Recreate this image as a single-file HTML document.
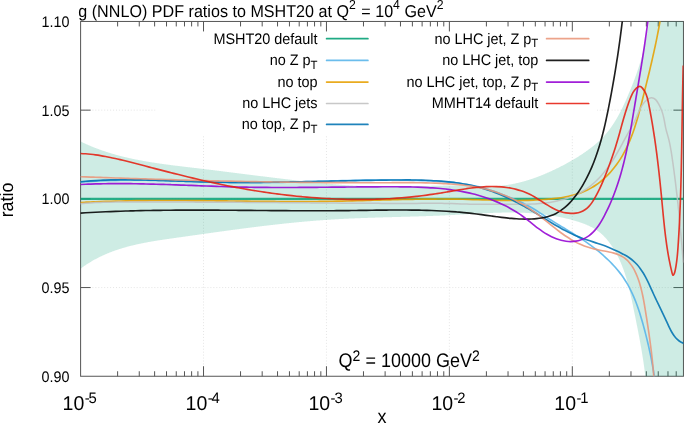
<!DOCTYPE html>
<html lang="en"><head><meta charset="utf-8"><title>g (NNLO) PDF ratios to MSHT20</title>
<style>html,body{margin:0;padding:0;background:#fff;overflow:hidden}svg{display:block}</style></head>
<body>
<svg width="685" height="423" viewBox="0 0 685 423" font-family="'Liberation Sans', Arial, Helvetica, sans-serif" fill="#000">
<defs><clipPath id="pc"><rect x="80.60" y="21.45" width="602.85" height="354.80"/></clipPath></defs>
<rect x="0" y="0" width="685" height="423" fill="#fff"/>
<g stroke="#e2e2e2" stroke-width="0.9" stroke-dasharray="1,1.95" fill="none">
<line x1="203.53" y1="376.25" x2="203.53" y2="21.45"/>
<line x1="326.46" y1="376.25" x2="326.46" y2="21.45"/>
<line x1="449.39" y1="376.25" x2="449.39" y2="21.45"/>
<line x1="572.32" y1="376.25" x2="572.32" y2="21.45"/>
<line x1="80.60" y1="287.55" x2="683.45" y2="287.55"/>
<line x1="80.60" y1="198.85" x2="683.45" y2="198.85"/>
<line x1="80.60" y1="110.15" x2="683.45" y2="110.15"/>
</g>
<rect x="155.60" y="21.50" width="441.40" height="114.00" fill="#fff"/>
<g stroke="#555" stroke-width="1.0" fill="none">
<rect x="80.60" y="21.45" width="602.85" height="354.80"/>
<path d="M117.61,376.25v-5.00M117.61,21.45v5.00"/>
<path d="M139.25,376.25v-5.00M139.25,21.45v5.00"/>
<path d="M154.61,376.25v-5.00M154.61,21.45v5.00"/>
<path d="M166.52,376.25v-5.00M166.52,21.45v5.00"/>
<path d="M176.26,376.25v-5.00M176.26,21.45v5.00"/>
<path d="M184.49,376.25v-5.00M184.49,21.45v5.00"/>
<path d="M191.62,376.25v-5.00M191.62,21.45v5.00"/>
<path d="M197.91,376.25v-5.00M197.91,21.45v5.00"/>
<path d="M203.53,376.25v-10.00M203.53,21.45v10.00"/>
<path d="M240.54,376.25v-5.00M240.54,21.45v5.00"/>
<path d="M262.18,376.25v-5.00M262.18,21.45v5.00"/>
<path d="M277.54,376.25v-5.00M277.54,21.45v5.00"/>
<path d="M289.45,376.25v-5.00M289.45,21.45v5.00"/>
<path d="M299.19,376.25v-5.00M299.19,21.45v5.00"/>
<path d="M307.42,376.25v-5.00M307.42,21.45v5.00"/>
<path d="M314.55,376.25v-5.00M314.55,21.45v5.00"/>
<path d="M320.84,376.25v-5.00M320.84,21.45v5.00"/>
<path d="M326.46,376.25v-10.00M326.46,21.45v10.00"/>
<path d="M363.47,376.25v-5.00M363.47,21.45v5.00"/>
<path d="M385.11,376.25v-5.00M385.11,21.45v5.00"/>
<path d="M400.47,376.25v-5.00M400.47,21.45v5.00"/>
<path d="M412.38,376.25v-5.00M412.38,21.45v5.00"/>
<path d="M422.12,376.25v-5.00M422.12,21.45v5.00"/>
<path d="M430.35,376.25v-5.00M430.35,21.45v5.00"/>
<path d="M437.48,376.25v-5.00M437.48,21.45v5.00"/>
<path d="M443.77,376.25v-5.00M443.77,21.45v5.00"/>
<path d="M449.39,376.25v-10.00M449.39,21.45v10.00"/>
<path d="M486.40,376.25v-5.00M486.40,21.45v5.00"/>
<path d="M508.04,376.25v-5.00M508.04,21.45v5.00"/>
<path d="M523.40,376.25v-5.00M523.40,21.45v5.00"/>
<path d="M535.31,376.25v-5.00M535.31,21.45v5.00"/>
<path d="M545.05,376.25v-5.00M545.05,21.45v5.00"/>
<path d="M553.28,376.25v-5.00M553.28,21.45v5.00"/>
<path d="M560.41,376.25v-5.00M560.41,21.45v5.00"/>
<path d="M566.70,376.25v-5.00M566.70,21.45v5.00"/>
<path d="M572.32,376.25v-10.00M572.32,21.45v10.00"/>
<path d="M609.33,376.25v-5.00M609.33,21.45v5.00"/>
<path d="M630.97,376.25v-5.00M630.97,21.45v5.00"/>
<path d="M646.33,376.25v-5.00M646.33,21.45v5.00"/>
<path d="M658.24,376.25v-5.00M658.24,21.45v5.00"/>
<path d="M667.98,376.25v-5.00M667.98,21.45v5.00"/>
<path d="M676.21,376.25v-5.00M676.21,21.45v5.00"/>
<path d="M80.60,287.55h10.00M683.45,287.55h-10.00"/>
<path d="M80.60,198.85h10.00M683.45,198.85h-10.00"/>
<path d="M80.60,110.15h10.00M683.45,110.15h-10.00"/>
</g>
<g clip-path="url(#pc)">
<path d="M80.46,141.37L80.92,141.59L81.37,141.82L81.83,142.04L82.28,142.26L82.74,142.48L83.20,142.70L83.65,142.91L84.11,143.13L84.57,143.34L85.03,143.55L85.49,143.76L85.95,143.97L86.41,144.18L86.87,144.39L87.33,144.59L87.79,144.80L88.25,145.00L88.71,145.20L89.17,145.40L89.63,145.60L90.10,145.80L90.56,145.99L91.02,146.19L91.49,146.38L91.95,146.57L92.41,146.76L92.88,146.95L93.34,147.14L93.81,147.32L94.27,147.51L94.74,147.69L95.21,147.88L95.67,148.06L96.14,148.24L96.61,148.42L97.07,148.60L97.54,148.77L98.01,148.95L98.48,149.12L98.95,149.29L99.42,149.47L99.89,149.64L100.36,149.81L100.83,149.97L101.30,150.14L101.77,150.31L102.24,150.47L102.71,150.64L103.18,150.80L103.65,150.96L104.13,151.12L104.60,151.28L105.07,151.44L105.54,151.59L106.02,151.75L106.49,151.90L106.97,152.06L107.44,152.21L107.91,152.36L108.39,152.51L108.86,152.66L109.34,152.81L109.82,152.95L110.29,153.10L110.77,153.24L111.25,153.39L111.72,153.53L112.20,153.67L112.68,153.81L113.15,153.95L113.63,154.09L114.11,154.23L114.59,154.37L115.07,154.50L115.55,154.64L116.03,154.77L116.51,154.90L116.99,155.03L117.47,155.16L117.95,155.29L118.43,155.42L118.91,155.55L119.39,155.68L119.87,155.80L120.35,155.93L120.83,156.05L121.31,156.18L121.80,156.30L122.28,156.42L122.76,156.54L123.24,156.66L123.73,156.78L124.21,156.90L124.69,157.01L125.18,157.13L125.66,157.25L126.15,157.36L126.63,157.47L127.12,157.59L127.60,157.70L128.09,157.81L128.57,157.92L129.06,158.03L129.54,158.14L130.03,158.25L130.52,158.35L131.00,158.46L131.49,158.57L131.98,158.67L132.46,158.78L132.95,158.88L133.44,158.98L133.92,159.08L134.41,159.18L134.90,159.28L135.39,159.38L135.88,159.48L136.36,159.58L136.85,159.68L137.34,159.78L137.83,159.87L138.32,159.97L138.81,160.06L139.30,160.16L139.79,160.25L140.28,160.34L140.77,160.43L141.26,160.53L141.75,160.62L142.24,160.71L142.73,160.80L143.22,160.88L143.71,160.97L144.20,161.06L144.70,161.15L145.19,161.23L145.68,161.32L146.17,161.40L146.66,161.49L147.16,161.57L147.65,161.66L148.14,161.74L148.63,161.82L149.12,161.90L149.62,161.99L150.11,162.07L150.60,162.15L151.10,162.23L151.59,162.31L152.08,162.38L152.58,162.46L153.07,162.54L153.56,162.62L154.06,162.69L154.55,162.77L155.05,162.85L155.54,162.92L156.04,163.00L156.53,163.07L157.03,163.15L157.52,163.22L158.01,163.29L158.51,163.36L159.00,163.44L159.50,163.51L160.00,163.58L160.49,163.65L160.99,163.72L161.48,163.79L161.98,163.86L162.47,163.93L162.97,164.00L163.46,164.07L163.96,164.14L164.46,164.21L164.95,164.27L165.45,164.34L165.95,164.41L166.44,164.47L166.94,164.54L167.43,164.61L167.93,164.67L168.43,164.74L168.92,164.80L169.42,164.87L169.92,164.93L170.41,165.00L170.91,165.06L171.41,165.13L171.91,165.19L172.40,165.25L172.90,165.32L173.40,165.38L173.90,165.44L174.39,165.50L174.89,165.57L175.39,165.63L175.88,165.69L176.38,165.75L176.88,165.81L177.38,165.87L177.87,165.93L178.37,166.00L178.87,166.06L179.37,166.12L179.87,166.18L180.36,166.24L180.86,166.30L181.36,166.36L181.86,166.42L182.35,166.48L182.85,166.54L183.35,166.60L183.85,166.65L184.35,166.71L184.84,166.77L185.34,166.83L185.84,166.89L186.34,166.95L186.84,167.01L187.33,167.07L187.83,167.13L188.33,167.19L188.83,167.24L189.33,167.30L189.82,167.36L190.32,167.42L190.82,167.48L191.32,167.54L191.82,167.60L192.31,167.65L192.81,167.71L193.31,167.77L193.81,167.83L194.30,167.89L194.80,167.95L195.30,168.01L195.80,168.07L196.30,168.12L196.79,168.18L197.29,168.24L197.79,168.30L198.29,168.36L198.78,168.42L199.28,168.48L199.78,168.54L200.28,168.60L200.77,168.66L201.27,168.72L201.77,168.78L202.27,168.84L202.76,168.90L203.26,168.96L203.76,169.02L204.25,169.08L204.75,169.14L205.25,169.20L205.75,169.26L206.24,169.32L206.74,169.38L207.24,169.44L207.73,169.50L208.23,169.56L208.73,169.62L209.22,169.68L209.72,169.74L210.22,169.80L210.71,169.86L211.21,169.92L211.71,169.99L212.20,170.05L212.70,170.11L213.20,170.17L213.69,170.23L214.19,170.29L214.69,170.35L215.18,170.41L215.68,170.47L216.18,170.54L216.67,170.60L217.17,170.66L217.66,170.72L218.16,170.78L218.66,170.84L219.15,170.91L219.65,170.97L220.15,171.03L220.64,171.09L221.14,171.15L221.63,171.21L222.13,171.28L222.63,171.34L223.12,171.40L223.62,171.46L224.12,171.52L224.61,171.59L225.11,171.65L225.60,171.71L226.10,171.77L226.60,171.83L227.09,171.90L227.59,171.96L228.08,172.02L228.58,172.08L229.07,172.15L229.57,172.21L230.07,172.27L230.56,172.33L231.06,172.39L231.55,172.46L232.05,172.52L232.55,172.58L233.04,172.64L233.54,172.71L234.03,172.77L234.53,172.83L235.02,172.89L235.52,172.96L236.01,173.02L236.51,173.08L237.01,173.14L237.50,173.21L238.00,173.27L238.49,173.33L238.99,173.39L239.48,173.45L239.98,173.52L240.47,173.58L240.97,173.64L241.47,173.70L241.96,173.77L242.46,173.83L242.95,173.89L243.45,173.95L243.94,174.02L244.44,174.08L244.93,174.14L245.43,174.20L245.92,174.27L246.42,174.33L246.92,174.39L247.41,174.45L247.91,174.52L248.40,174.58L248.90,174.64L249.39,174.70L249.89,174.76L250.38,174.83L250.88,174.89L251.37,174.95L251.87,175.01L252.36,175.07L252.86,175.14L253.36,175.20L253.85,175.26L254.35,175.32L254.84,175.39L255.34,175.45L255.83,175.51L256.33,175.57L256.82,175.63L257.32,175.69L257.81,175.76L258.31,175.82L258.80,175.88L259.30,175.94L259.79,176.00L260.29,176.06L260.78,176.13L261.28,176.19L261.78,176.25L262.27,176.31L262.77,176.37L263.26,176.43L263.76,176.49L264.25,176.56L264.75,176.62L265.24,176.68L265.74,176.74L266.23,176.80L266.73,176.86L267.22,176.92L267.72,176.98L268.21,177.04L268.71,177.10L269.21,177.16L269.70,177.22L270.20,177.29L270.69,177.35L271.19,177.41L271.68,177.47L272.18,177.53L272.67,177.59L273.17,177.65L273.66,177.71L274.16,177.77L274.65,177.83L275.15,177.89L275.65,177.95L276.14,178.01L276.64,178.07L277.13,178.13L277.63,178.19L278.12,178.25L278.62,178.30L279.11,178.36L279.61,178.42L280.11,178.48L280.60,178.54L281.10,178.60L281.59,178.66L282.09,178.72L282.58,178.78L283.08,178.84L283.57,178.89L284.07,178.95L284.57,179.01L285.06,179.07L285.56,179.13L286.05,179.19L286.55,179.24L287.05,179.30L287.54,179.36L288.04,179.42L288.53,179.48L289.03,179.53L289.52,179.59L290.02,179.65L290.52,179.70L291.01,179.76L291.51,179.82L292.00,179.88L292.50,179.93L293.00,179.99L293.49,180.05L293.99,180.10L294.48,180.16L294.98,180.22L295.48,180.27L295.97,180.33L296.47,180.38L296.96,180.44L297.46,180.50L297.96,180.55L298.45,180.61L298.95,180.66L299.45,180.72L299.94,180.77L300.44,180.83L300.93,180.88L301.43,180.94L301.93,180.99L302.42,181.05L302.92,181.10L303.42,181.16L303.91,181.21L304.41,181.26L304.91,181.32L305.40,181.37L305.90,181.43L306.40,181.48L306.89,181.53L307.39,181.59L307.89,181.64L308.38,181.69L308.88,181.75L309.38,181.80L309.87,181.85L310.37,181.90L310.87,181.96L311.36,182.01L311.86,182.06L312.36,182.11L312.86,182.16L313.35,182.22L313.85,182.27L314.35,182.32L314.84,182.37L315.34,182.42L315.84,182.47L316.34,182.52L316.83,182.57L317.33,182.62L317.83,182.67L318.33,182.73L318.82,182.78L319.32,182.82L319.82,182.87L320.32,182.92L320.81,182.97L321.31,183.02L321.81,183.07L322.31,183.12L322.80,183.17L323.30,183.22L323.80,183.27L324.30,183.31L324.79,183.36L325.29,183.41L325.79,183.46L326.29,183.51L326.79,183.55L327.28,183.60L327.78,183.65L328.28,183.69L328.78,183.74L329.28,183.79L329.78,183.83L330.27,183.88L330.77,183.92L331.27,183.97L331.77,184.01L332.27,184.06L332.77,184.10L333.26,184.14L333.76,184.19L334.26,184.23L334.76,184.27L335.26,184.32L335.76,184.36L336.25,184.40L336.75,184.44L337.25,184.49L337.75,184.53L338.25,184.57L338.75,184.61L339.25,184.65L339.75,184.69L340.24,184.73L340.74,184.77L341.24,184.81L341.74,184.85L342.24,184.89L342.74,184.92L343.24,184.96L343.74,185.00L344.24,185.04L344.73,185.07L345.23,185.11L345.73,185.15L346.23,185.18L346.73,185.22L347.23,185.25L347.73,185.28L348.23,185.32L348.73,185.35L349.23,185.39L349.73,185.42L350.22,185.45L350.72,185.48L351.22,185.51L351.72,185.55L352.22,185.58L352.72,185.61L353.22,185.64L353.72,185.66L354.22,185.69L354.72,185.72L355.22,185.75L355.72,185.78L356.22,185.80L356.72,185.83L357.22,185.86L357.71,185.88L358.21,185.91L358.71,185.93L359.21,185.96L359.71,185.98L360.21,186.00L360.71,186.03L361.21,186.05L361.71,186.07L362.21,186.09L362.71,186.11L363.21,186.13L363.71,186.15L364.21,186.17L364.71,186.19L365.21,186.21L365.71,186.23L366.21,186.24L366.71,186.26L367.21,186.28L367.71,186.29L368.21,186.31L368.71,186.32L369.21,186.34L369.71,186.35L370.21,186.37L370.70,186.38L371.20,186.39L371.70,186.40L372.20,186.42L372.70,186.43L373.20,186.44L373.70,186.45L374.20,186.46L374.70,186.47L375.20,186.48L375.70,186.49L376.20,186.50L376.70,186.51L377.20,186.51L377.70,186.52L378.20,186.53L378.70,186.54L379.20,186.54L379.70,186.55L380.20,186.55L380.70,186.56L381.20,186.56L381.70,186.57L382.20,186.57L382.70,186.58L383.20,186.58L383.70,186.58L384.20,186.59L384.70,186.59L385.20,186.59L385.70,186.59L386.20,186.60L386.70,186.60L387.20,186.60L387.70,186.60L388.20,186.60L388.70,186.60L389.20,186.60L389.70,186.60L390.20,186.60L390.69,186.60L391.19,186.60L391.69,186.59L392.19,186.59L392.69,186.59L393.19,186.59L393.69,186.59L394.19,186.58L394.69,186.58L395.19,186.58L395.69,186.57L396.19,186.57L396.69,186.56L397.19,186.56L397.69,186.55L398.19,186.55L398.69,186.54L399.19,186.54L399.69,186.53L400.19,186.53L400.69,186.52L401.19,186.51L401.69,186.51L402.19,186.50L402.68,186.49L403.18,186.49L403.68,186.48L404.18,186.47L404.68,186.46L405.18,186.46L405.68,186.45L406.18,186.44L406.68,186.43L407.18,186.42L407.68,186.41L408.18,186.40L408.68,186.40L409.18,186.39L409.68,186.38L410.17,186.37L410.67,186.36L411.17,186.35L411.67,186.34L412.17,186.33L412.67,186.32L413.17,186.31L413.67,186.30L414.17,186.29L414.67,186.27L415.17,186.26L415.66,186.25L416.16,186.24L416.66,186.23L417.16,186.22L417.66,186.21L418.16,186.20L418.66,186.18L419.16,186.17L419.66,186.16L420.15,186.15L420.65,186.14L421.15,186.12L421.65,186.11L422.15,186.10L422.65,186.09L423.15,186.08L423.64,186.06L424.14,186.05L424.64,186.04L425.14,186.03L425.64,186.01L426.14,186.00L426.64,185.99L427.13,185.98L427.63,185.96L428.13,185.95L428.63,185.94L429.13,185.93L429.63,185.92L430.13,185.90L430.62,185.89L431.12,185.88L431.62,185.87L432.12,185.86L432.62,185.84L433.12,185.83L433.61,185.82L434.11,185.81L434.61,185.80L435.11,185.79L435.61,185.78L436.11,185.76L436.61,185.75L437.10,185.74L437.60,185.73L438.10,185.72L438.60,185.71L439.10,185.70L439.60,185.69L440.10,185.68L440.60,185.67L441.09,185.67L441.59,185.66L442.09,185.65L442.59,185.64L443.09,185.63L443.59,185.62L444.09,185.62L444.59,185.61L445.09,185.60L445.59,185.59L446.09,185.59L446.58,185.58L447.08,185.58L447.58,185.57L448.08,185.56L448.58,185.56L449.08,185.55L449.58,185.55L450.08,185.55L450.58,185.54L451.08,185.54L451.58,185.54L452.08,185.53L452.58,185.53L453.08,185.53L453.58,185.53L454.08,185.53L454.58,185.53L455.08,185.52L455.58,185.52L456.08,185.53L456.58,185.53L457.08,185.53L457.58,185.53L458.08,185.53L458.58,185.53L459.09,185.54L459.59,185.54L460.09,185.55L460.59,185.55L461.09,185.56L461.59,185.56L462.09,185.57L462.59,185.57L463.10,185.58L463.60,185.59L464.10,185.60L464.60,185.61L465.10,185.61L465.61,185.62L466.11,185.63L466.61,185.65L467.11,185.66L467.61,185.67L468.12,185.68L468.62,185.70L469.12,185.71L469.63,185.72L470.13,185.74L470.63,185.76L471.13,185.77L471.64,185.79L472.14,185.81L472.64,185.82L473.15,185.84L473.65,185.86L474.16,185.88L474.66,185.90L475.16,185.92L475.67,185.93L476.17,185.95L476.67,185.97L477.18,185.99L477.68,186.01L478.18,186.03L478.69,186.05L479.19,186.06L479.70,186.08L480.20,186.10L480.70,186.11L481.21,186.13L481.71,186.14L482.21,186.16L482.72,186.17L483.22,186.18L483.72,186.20L484.22,186.21L484.73,186.22L485.23,186.23L485.73,186.24L486.23,186.24L486.74,186.25L487.24,186.25L487.74,186.26L488.24,186.26L488.74,186.26L489.24,186.26L489.74,186.26L490.25,186.25L490.75,186.25L491.25,186.24L491.75,186.23L492.25,186.22L492.74,186.21L493.24,186.19L493.74,186.18L494.24,186.16L494.74,186.14L495.24,186.12L495.73,186.09L496.23,186.06L496.73,186.04L497.23,186.00L497.72,185.97L498.22,185.94L498.71,185.90L499.21,185.86L499.70,185.82L500.20,185.77L500.69,185.73L501.19,185.68L501.68,185.63L502.17,185.58L502.67,185.52L503.16,185.47L503.65,185.41L504.14,185.35L504.64,185.29L505.13,185.22L505.62,185.16L506.11,185.09L506.60,185.02L507.09,184.95L507.58,184.88L508.07,184.80L508.56,184.72L509.05,184.64L509.54,184.56L510.02,184.48L510.51,184.39L511.00,184.31L511.49,184.22L511.97,184.13L512.46,184.04L512.95,183.94L513.43,183.85L513.92,183.75L514.40,183.65L514.89,183.55L515.37,183.44L515.85,183.34L516.34,183.23L516.82,183.12L517.30,183.01L517.79,182.90L518.27,182.79L518.75,182.67L519.23,182.56L519.71,182.44L520.20,182.32L520.68,182.20L521.16,182.07L521.64,181.95L522.12,181.82L522.60,181.69L523.07,181.56L523.55,181.43L524.03,181.30L524.51,181.16L524.99,181.03L525.46,180.89L525.94,180.75L526.42,180.61L526.89,180.47L527.37,180.32L527.84,180.18L528.32,180.03L528.79,179.88L529.27,179.73L529.74,179.58L530.22,179.42L530.69,179.27L531.16,179.11L531.63,178.96L532.11,178.80L532.58,178.64L533.05,178.48L533.52,178.31L533.99,178.15L534.46,177.98L534.93,177.81L535.40,177.65L535.87,177.48L536.34,177.30L536.81,177.13L537.28,176.96L537.74,176.78L538.21,176.61L538.68,176.43L539.14,176.25L539.61,176.07L540.08,175.89L540.54,175.70L541.01,175.52L541.47,175.33L541.94,175.15L542.40,174.96L542.87,174.77L543.33,174.58L543.79,174.39L544.25,174.20L544.72,174.00L545.18,173.81L545.64,173.61L546.10,173.41L546.56,173.22L547.02,173.02L547.48,172.81L547.94,172.61L548.40,172.41L548.86,172.21L549.32,172.00L549.78,171.80L550.23,171.59L550.69,171.38L551.15,171.17L551.61,170.96L552.06,170.75L552.52,170.54L552.97,170.32L553.43,170.11L553.88,169.89L554.34,169.68L554.79,169.46L555.24,169.24L555.70,169.02L556.15,168.80L556.60,168.58L557.06,168.36L557.51,168.14L557.96,167.92L558.41,167.69L558.86,167.47L559.31,167.24L559.76,167.01L560.21,166.78L560.66,166.56L561.11,166.33L561.55,166.10L562.00,165.87L562.45,165.63L562.90,165.40L563.34,165.17L563.79,164.93L564.23,164.70L564.68,164.46L565.12,164.22L565.57,163.98L566.01,163.74L566.45,163.50L566.90,163.26L567.34,163.02L567.78,162.78L568.22,162.54L568.66,162.29L569.10,162.04L569.54,161.80L569.98,161.55L570.41,161.30L570.85,161.05L571.29,160.80L571.72,160.55L572.16,160.30L572.59,160.04L573.03,159.79L573.46,159.53L573.90,159.28L574.33,159.02L574.76,158.76L575.19,158.50L575.62,158.24L576.05,157.98L576.48,157.72L576.90,157.45L577.33,157.19L577.76,156.92L578.18,156.65L578.61,156.39L579.03,156.12L579.46,155.85L579.88,155.58L580.30,155.30L580.72,155.03L581.14,154.75L581.56,154.48L581.98,154.20L582.40,153.92L582.81,153.64L583.23,153.36L583.64,153.08L584.06,152.80L584.47,152.51L584.88,152.23L585.29,151.94L585.70,151.66L586.11,151.37L586.52,151.08L586.93,150.79L587.33,150.49L587.74,150.20L588.14,149.91L588.55,149.61L588.95,149.31L589.35,149.01L589.75,148.71L590.15,148.41L590.55,148.11L590.95,147.81L591.34,147.50L591.74,147.20L592.13,146.89L592.53,146.58L592.92,146.27L593.31,145.96L593.70,145.64L594.08,145.33L594.47,145.01L594.85,144.70L595.24,144.38L595.62,144.06L596.00,143.73L596.38,143.41L596.75,143.08L597.13,142.76L597.50,142.43L597.87,142.10L598.24,141.77L598.61,141.43L598.97,141.10L599.34,140.76L599.70,140.42L600.06,140.08L600.42,139.74L600.77,139.39L601.12,139.04L601.47,138.70L601.82,138.35L602.17,137.99L602.51,137.64L602.86,137.28L603.19,136.92L603.53,136.56L603.87,136.20L604.20,135.84L604.53,135.47L604.86,135.10L605.18,134.73L605.51,134.36L605.83,133.99L606.15,133.61L606.47,133.24L606.78,132.86L607.10,132.48L607.41,132.10L607.72,131.71L608.02,131.33L608.33,130.94L608.63,130.55L608.93,130.16L609.23,129.77L609.53,129.38L609.82,128.98L610.12,128.58L610.41,128.18L610.70,127.79L610.98,127.38L611.27,126.98L611.55,126.58L611.84,126.17L612.12,125.76L612.39,125.36L612.67,124.95L612.95,124.53L613.22,124.12L613.49,123.71L613.76,123.29L614.03,122.88L614.29,122.46L614.56,122.04L614.82,121.62L615.08,121.20L615.34,120.77L615.60,120.35L615.86,119.92L616.11,119.50L616.37,119.07L616.62,118.64L616.87,118.21L617.12,117.78L617.37,117.35L617.61,116.91L617.86,116.48L618.10,116.04L618.34,115.61L618.58,115.17L618.82,114.73L619.06,114.29L619.30,113.85L619.53,113.41L619.77,112.97L620.00,112.53L620.23,112.08L620.46,111.64L620.69,111.19L620.92,110.75L621.15,110.30L621.37,109.85L621.60,109.41L621.82,108.96L622.04,108.51L622.26,108.06L622.48,107.60L622.70,107.15L622.92,106.70L623.14,106.25L623.35,105.79L623.57,105.34L623.78,104.88L623.99,104.43L624.21,103.97L624.42,103.51L624.63,103.06L624.84,102.60L625.04,102.14L625.25,101.68L625.46,101.22L625.66,100.76L625.87,100.30L626.07,99.84L626.28,99.38L626.48,98.92L626.68,98.46L626.88,98.00L627.08,97.54L627.28,97.07L627.48,96.61L627.68,96.15L627.88,95.69L628.08,95.22L628.27,94.76L628.47,94.30L628.67,93.83L628.86,93.37L629.05,92.90L629.25,92.44L629.44,91.98L629.63,91.51L629.83,91.05L630.02,90.58L630.21,90.12L630.40,89.65L630.59,89.19L630.78,88.72L630.97,88.26L631.16,87.79L631.34,87.33L631.53,86.86L631.72,86.39L631.90,85.93L632.09,85.46L632.27,85.00L632.45,84.53L632.64,84.06L632.82,83.59L633.00,83.13L633.18,82.66L633.36,82.19L633.54,81.72L633.72,81.26L633.90,80.79L634.07,80.32L634.25,79.85L634.43,79.38L634.60,78.91L634.78,78.45L634.95,77.98L635.12,77.51L635.29,77.04L635.47,76.57L635.64,76.10L635.81,75.63L635.97,75.16L636.14,74.69L636.31,74.22L636.48,73.75L636.64,73.27L636.81,72.80L636.97,72.33L637.13,71.86L637.30,71.39L637.46,70.92L637.62,70.44L637.78,69.97L637.94,69.50L638.10,69.03L638.25,68.55L638.41,68.08L638.56,67.61L638.72,67.13L638.87,66.66L639.03,66.18L639.18,65.71L639.33,65.23L639.48,64.76L639.63,64.28L639.78,63.81L639.92,63.33L640.07,62.86L640.21,62.38L640.36,61.90L640.50,61.43L640.64,60.95L640.79,60.47L640.93,60.00L641.07,59.52L641.20,59.04L641.34,58.56L641.48,58.08L641.61,57.61L641.75,57.13L641.88,56.65L642.01,56.17L642.15,55.69L642.28,55.21L642.41,54.73L642.53,54.25L642.66,53.77L642.79,53.29L642.91,52.80L643.04,52.32L643.16,51.84L643.28,51.36L643.40,50.88L643.52,50.39L643.64,49.91L643.76,49.43L643.88,48.95L643.99,48.46L644.11,47.98L644.22,47.49L644.33,47.01L644.45,46.53L644.56,46.04L644.67,45.56L644.78,45.07L644.89,44.58L644.99,44.10L645.10,43.61L645.20,43.13L645.31,42.64L645.41,42.15L645.51,41.67L645.62,41.18L645.72,40.69L645.82,40.20L645.91,39.71L646.01,39.23L646.11,38.74L646.20,38.25L646.30,37.76L646.39,37.27L646.49,36.78L646.58,36.29L646.67,35.80L646.76,35.31L646.85,34.82L646.94,34.33L647.02,33.84L647.11,33.35L647.19,32.85L647.28,32.36L647.36,31.87L647.45,31.38L647.53,30.88L647.61,30.39L647.69,29.90L647.77,29.40L647.84,28.91L647.92,28.42L648.00,27.92L648.07,27.43L648.15,26.93L648.22,26.44L648.29,25.94L648.37,25.45L648.44,24.95L648.51,24.45L648.58,23.96L648.64,23.46L648.71,22.96L648.78,22.47L648.84,21.97L648.91,21.47L648.97,20.97L649.04,20.48L649.10,19.98L649.16,19.48L649.22,18.98L649.28,18.48L649.34,17.98L649.40,17.48L649.45,16.98L649.51,16.48L649.57,15.98L649.62,15.48L649.67,14.98L649.73,14.48L649.78,13.98L649.83,13.48L649.88,12.97L649.93,12.47L649.98,11.97L650.03,11.47L650.07,10.96L650.12,10.46L650.17,9.96L683.45,6.45L683.45,391.25L646.25,385.07L646.20,384.56L646.15,384.06L646.11,383.55L646.06,383.04L646.00,382.54L645.95,382.03L645.90,381.53L645.85,381.03L645.80,380.52L645.74,380.02L645.69,379.51L645.63,379.01L645.58,378.51L645.52,378.01L645.47,377.51L645.41,377.00L645.35,376.50L645.29,376.00L645.23,375.50L645.17,375.00L645.11,374.50L645.05,374.00L644.99,373.50L644.93,373.00L644.87,372.50L644.81,372.01L644.74,371.51L644.68,371.01L644.62,370.51L644.55,370.01L644.48,369.52L644.42,369.02L644.35,368.52L644.29,368.03L644.22,367.53L644.15,367.03L644.08,366.54L644.01,366.04L643.94,365.55L643.87,365.05L643.80,364.56L643.73,364.06L643.66,363.57L643.59,363.08L643.52,362.58L643.44,362.09L643.37,361.59L643.30,361.10L643.22,360.61L643.15,360.12L643.07,359.62L643.00,359.13L642.92,358.64L642.85,358.15L642.77,357.65L642.69,357.16L642.61,356.67L642.54,356.18L642.46,355.69L642.38,355.20L642.30,354.71L642.22,354.22L642.14,353.72L642.06,353.23L641.98,352.74L641.90,352.25L641.82,351.76L641.73,351.27L641.65,350.78L641.57,350.29L641.49,349.80L641.40,349.31L641.32,348.83L641.23,348.34L641.15,347.85L641.06,347.36L640.98,346.87L640.89,346.38L640.81,345.89L640.72,345.40L640.63,344.91L640.55,344.43L640.46,343.94L640.37,343.45L640.28,342.96L640.20,342.47L640.11,341.98L640.02,341.50L639.93,341.01L639.84,340.52L639.75,340.03L639.66,339.54L639.57,339.06L639.48,338.57L639.39,338.08L639.30,337.59L639.21,337.10L639.11,336.62L639.02,336.13L638.93,335.64L638.84,335.15L638.74,334.67L638.65,334.18L638.56,333.69L638.46,333.20L638.37,332.72L638.28,332.23L638.18,331.74L638.09,331.25L637.99,330.76L637.90,330.28L637.80,329.79L637.71,329.30L637.61,328.81L637.52,328.32L637.42,327.84L637.32,327.35L637.23,326.86L637.13,326.37L637.03,325.88L636.94,325.40L636.84,324.91L636.74,324.42L636.65,323.93L636.55,323.44L636.45,322.95L636.35,322.46L636.25,321.98L636.16,321.49L636.06,321.00L635.96,320.51L635.86,320.02L635.76,319.53L635.66,319.04L635.56,318.55L635.46,318.06L635.37,317.57L635.27,317.08L635.17,316.59L635.07,316.10L634.97,315.61L634.87,315.12L634.77,314.63L634.67,314.14L634.57,313.65L634.47,313.16L634.37,312.67L634.27,312.17L634.17,311.68L634.07,311.19L633.96,310.70L633.86,310.21L633.76,309.71L633.66,309.22L633.56,308.73L633.46,308.24L633.36,307.74L633.26,307.25L633.16,306.76L633.05,306.26L632.95,305.77L632.85,305.28L632.75,304.78L632.65,304.29L632.54,303.80L632.44,303.30L632.34,302.81L632.23,302.32L632.13,301.82L632.02,301.33L631.92,300.83L631.81,300.34L631.71,299.85L631.60,299.35L631.49,298.86L631.39,298.37L631.28,297.87L631.17,297.38L631.06,296.89L630.95,296.39L630.84,295.90L630.73,295.41L630.62,294.92L630.51,294.42L630.40,293.93L630.28,293.44L630.17,292.95L630.06,292.46L629.94,291.96L629.83,291.47L629.71,290.98L629.59,290.49L629.47,290.00L629.35,289.51L629.23,289.02L629.11,288.53L628.99,288.04L628.87,287.55L628.75,287.06L628.62,286.57L628.50,286.09L628.37,285.60L628.24,285.11L628.12,284.62L627.99,284.14L627.86,283.65L627.72,283.17L627.59,282.68L627.46,282.20L627.32,281.71L627.19,281.23L627.05,280.74L626.91,280.26L626.77,279.78L626.63,279.30L626.49,278.81L626.35,278.33L626.21,277.85L626.06,277.37L625.91,276.89L625.77,276.41L625.62,275.94L625.47,275.46L625.31,274.98L625.16,274.50L625.01,274.03L624.85,273.55L624.69,273.08L624.53,272.60L624.37,272.13L624.21,271.66L624.05,271.19L623.88,270.71L623.72,270.24L623.55,269.77L623.38,269.30L623.21,268.84L623.03,268.37L622.86,267.90L622.68,267.44L622.50,266.97L622.33,266.51L622.14,266.04L621.96,265.58L621.78,265.12L621.59,264.66L621.40,264.20L621.21,263.74L621.02,263.28L620.82,262.82L620.63,262.36L620.43,261.91L620.23,261.45L620.03,261.00L619.83,260.54L619.62,260.09L619.41,259.64L619.21,259.19L618.99,258.74L618.78,258.29L618.57,257.84L618.35,257.40L618.13,256.95L617.91,256.51L617.68,256.06L617.46,255.62L617.23,255.18L617.00,254.74L616.77,254.30L616.53,253.86L616.30,253.43L616.06,252.99L615.82,252.56L615.57,252.12L615.33,251.69L615.08,251.26L614.83,250.83L614.57,250.40L614.32,249.97L614.06,249.55L613.80,249.12L613.54,248.70L613.27,248.28L613.01,247.85L612.74,247.43L612.46,247.01L612.19,246.60L611.91,246.18L611.63,245.77L611.35,245.35L611.06,244.94L610.78,244.53L610.49,244.12L610.19,243.71L609.90,243.31L609.60,242.90L609.30,242.50L608.99,242.10L608.69,241.70L608.38,241.31L608.07,240.92L607.75,240.53L607.43,240.14L607.11,239.75L606.79,239.37L606.46,238.99L606.13,238.61L605.80,238.24L605.47,237.87L605.13,237.50L604.79,237.13L604.45,236.77L604.10,236.41L603.75,236.06L603.40,235.71L603.04,235.36L602.68,235.02L602.32,234.68L601.96,234.34L601.59,234.01L601.22,233.69L600.84,233.36L600.46,233.04L600.08,232.73L599.70,232.42L599.31,232.12L598.92,231.81L598.53,231.52L598.13,231.23L597.73,230.94L597.33,230.66L596.93,230.38L596.52,230.10L596.11,229.83L595.69,229.56L595.28,229.30L594.86,229.04L594.44,228.79L594.01,228.54L593.59,228.29L593.16,228.04L592.73,227.80L592.30,227.57L591.86,227.33L591.42,227.10L590.98,226.88L590.54,226.66L590.10,226.44L589.65,226.22L589.20,226.01L588.75,225.80L588.30,225.59L587.85,225.39L587.39,225.19L586.93,224.99L586.47,224.79L586.01,224.60L585.55,224.41L585.09,224.23L584.62,224.04L584.16,223.86L583.69,223.68L583.22,223.51L582.75,223.33L582.28,223.16L581.80,222.99L581.33,222.83L580.86,222.66L580.38,222.50L579.90,222.34L579.43,222.18L578.95,222.02L578.47,221.87L577.99,221.72L577.51,221.57L577.02,221.42L576.54,221.27L576.06,221.13L575.58,220.98L575.09,220.84L574.61,220.70L574.12,220.56L573.64,220.42L573.15,220.29L572.67,220.15L572.18,220.02L571.70,219.88L571.21,219.75L570.73,219.62L570.24,219.50L569.75,219.37L569.27,219.24L568.78,219.12L568.29,219.00L567.80,218.87L567.31,218.75L566.83,218.63L566.34,218.52L565.85,218.40L565.36,218.28L564.87,218.17L564.38,218.06L563.89,217.95L563.40,217.84L562.91,217.73L562.42,217.62L561.93,217.51L561.44,217.41L560.95,217.31L560.46,217.20L559.97,217.10L559.47,217.00L558.98,216.90L558.49,216.81L558.00,216.71L557.51,216.62L557.01,216.52L556.52,216.43L556.03,216.34L555.53,216.25L555.04,216.16L554.55,216.07L554.05,215.98L553.56,215.90L553.07,215.82L552.57,215.73L552.08,215.65L551.58,215.57L551.09,215.49L550.59,215.41L550.10,215.34L549.60,215.26L549.11,215.18L548.61,215.11L548.12,215.04L547.62,214.97L547.13,214.90L546.63,214.83L546.14,214.76L545.64,214.69L545.15,214.63L544.65,214.56L544.15,214.50L543.66,214.44L543.16,214.38L542.66,214.32L542.17,214.26L541.67,214.20L541.17,214.14L540.68,214.09L540.18,214.03L539.68,213.98L539.19,213.93L538.69,213.87L538.19,213.82L537.69,213.78L537.20,213.73L536.70,213.68L536.20,213.63L535.70,213.59L535.21,213.54L534.71,213.50L534.21,213.46L533.71,213.42L533.22,213.38L532.72,213.34L532.22,213.30L531.72,213.26L531.22,213.23L530.73,213.19L530.23,213.16L529.73,213.13L529.23,213.09L528.74,213.06L528.24,213.03L527.74,213.00L527.24,212.98L526.74,212.95L526.25,212.92L525.75,212.90L525.25,212.87L524.75,212.85L524.25,212.83L523.75,212.80L523.26,212.78L522.76,212.76L522.26,212.74L521.76,212.73L521.26,212.71L520.77,212.69L520.27,212.68L519.77,212.66L519.27,212.65L518.77,212.63L518.27,212.62L517.78,212.61L517.28,212.60L516.78,212.59L516.28,212.58L515.78,212.57L515.28,212.56L514.79,212.56L514.29,212.55L513.79,212.55L513.29,212.54L512.79,212.54L512.29,212.53L511.79,212.53L511.30,212.53L510.80,212.53L510.30,212.53L509.80,212.53L509.30,212.53L508.80,212.53L508.31,212.53L507.81,212.53L507.31,212.54L506.81,212.54L506.31,212.55L505.81,212.55L505.31,212.56L504.81,212.56L504.32,212.57L503.82,212.58L503.32,212.59L502.82,212.60L502.32,212.61L501.82,212.62L501.32,212.63L500.82,212.64L500.33,212.65L499.83,212.66L499.33,212.67L498.83,212.69L498.33,212.70L497.83,212.71L497.33,212.73L496.83,212.74L496.33,212.76L495.84,212.78L495.34,212.79L494.84,212.81L494.34,212.83L493.84,212.84L493.34,212.86L492.84,212.88L492.34,212.90L491.84,212.92L491.34,212.94L490.85,212.96L490.35,212.98L489.85,213.00L489.35,213.02L488.85,213.04L488.35,213.06L487.85,213.09L487.35,213.11L486.85,213.13L486.35,213.15L485.85,213.18L485.36,213.20L484.86,213.23L484.36,213.25L483.86,213.27L483.36,213.30L482.86,213.32L482.36,213.35L481.86,213.38L481.36,213.40L480.86,213.43L480.36,213.45L479.86,213.48L479.36,213.51L478.86,213.53L478.37,213.56L477.87,213.59L477.37,213.62L476.87,213.64L476.37,213.67L475.87,213.70L475.37,213.73L474.87,213.75L474.37,213.78L473.87,213.81L473.37,213.84L472.87,213.87L472.37,213.90L471.87,213.93L471.37,213.95L470.87,213.98L470.37,214.01L469.87,214.04L469.37,214.07L468.88,214.10L468.38,214.13L467.88,214.16L467.38,214.19L466.88,214.22L466.38,214.24L465.88,214.27L465.38,214.30L464.88,214.33L464.38,214.36L463.88,214.39L463.38,214.42L462.88,214.45L462.38,214.48L461.88,214.51L461.38,214.53L460.88,214.56L460.38,214.59L459.88,214.62L459.38,214.65L458.88,214.68L458.38,214.70L457.88,214.73L457.38,214.76L456.88,214.79L456.38,214.81L455.88,214.84L455.38,214.87L454.88,214.90L454.38,214.92L453.88,214.95L453.38,214.97L452.88,215.00L452.38,215.03L451.88,215.05L451.38,215.08L450.88,215.10L450.38,215.13L449.88,215.15L449.38,215.18L448.88,215.20L448.38,215.23L447.88,215.25L447.38,215.27L446.88,215.30L446.38,215.32L445.88,215.34L445.38,215.37L444.88,215.39L444.38,215.41L443.88,215.43L443.38,215.46L442.88,215.48L442.38,215.50L441.88,215.52L441.38,215.54L440.88,215.56L440.38,215.59L439.88,215.61L439.38,215.63L438.88,215.65L438.38,215.67L437.88,215.69L437.38,215.71L436.88,215.73L436.38,215.75L435.88,215.77L435.38,215.79L434.88,215.81L434.38,215.83L433.88,215.85L433.38,215.86L432.88,215.88L432.38,215.90L431.88,215.92L431.38,215.94L430.88,215.96L430.38,215.98L429.88,215.99L429.38,216.01L428.88,216.03L428.38,216.05L427.88,216.06L427.38,216.08L426.88,216.10L426.38,216.12L425.88,216.13L425.38,216.15L424.88,216.17L424.38,216.18L423.88,216.20L423.38,216.22L422.88,216.23L422.38,216.25L421.88,216.27L421.38,216.28L420.88,216.30L420.38,216.31L419.88,216.33L419.38,216.34L418.88,216.36L418.38,216.38L417.88,216.39L417.38,216.41L416.88,216.42L416.38,216.44L415.88,216.45L415.38,216.47L414.88,216.48L414.38,216.50L413.88,216.51L413.38,216.53L412.88,216.54L412.38,216.56L411.88,216.57L411.38,216.59L410.87,216.60L410.37,216.61L409.87,216.63L409.37,216.64L408.87,216.66L408.37,216.67L407.87,216.69L407.37,216.70L406.87,216.71L406.37,216.73L405.87,216.74L405.37,216.76L404.87,216.77L404.37,216.78L403.87,216.80L403.37,216.81L402.87,216.83L402.37,216.84L401.87,216.85L401.37,216.87L400.87,216.88L400.37,216.90L399.87,216.91L399.37,216.92L398.87,216.94L398.37,216.95L397.87,216.96L397.37,216.98L396.87,216.99L396.37,217.01L395.87,217.02L395.37,217.03L394.87,217.05L394.37,217.06L393.87,217.07L393.37,217.09L392.87,217.10L392.37,217.12L391.87,217.13L391.37,217.14L390.87,217.16L390.37,217.17L389.87,217.19L389.37,217.20L388.87,217.21L388.37,217.23L387.87,217.24L387.37,217.26L386.87,217.27L386.37,217.28L385.87,217.30L385.37,217.31L384.87,217.33L384.37,217.34L383.87,217.36L383.37,217.37L382.87,217.39L382.37,217.40L381.87,217.41L381.37,217.43L380.87,217.44L380.37,217.46L379.87,217.47L379.37,217.49L378.87,217.50L378.37,217.52L377.87,217.53L377.37,217.55L376.87,217.57L376.37,217.58L375.88,217.60L375.38,217.61L374.88,217.63L374.38,217.64L373.88,217.66L373.38,217.68L372.88,217.69L372.38,217.71L371.88,217.72L371.38,217.74L370.88,217.76L370.38,217.77L369.88,217.79L369.38,217.81L368.88,217.83L368.38,217.84L367.88,217.86L367.38,217.88L366.88,217.89L366.38,217.91L365.88,217.93L365.38,217.95L364.88,217.97L364.39,217.98L363.89,218.00L363.39,218.02L362.89,218.04L362.39,218.06L361.89,218.08L361.39,218.09L360.89,218.11L360.39,218.13L359.89,218.15L359.39,218.17L358.89,218.19L358.39,218.21L357.89,218.23L357.39,218.25L356.90,218.27L356.40,218.29L355.90,218.31L355.40,218.33L354.90,218.35L354.40,218.38L353.90,218.40L353.40,218.42L352.90,218.44L352.40,218.46L351.90,218.48L351.41,218.51L350.91,218.53L350.41,218.55L349.91,218.57L349.41,218.60L348.91,218.62L348.41,218.64L347.91,218.67L347.41,218.69L346.91,218.71L346.42,218.74L345.92,218.76L345.42,218.79L344.92,218.81L344.42,218.84L343.92,218.86L343.42,218.89L342.92,218.91L342.43,218.94L341.93,218.96L341.43,218.99L340.93,219.02L340.43,219.04L339.93,219.07L339.43,219.10L338.94,219.12L338.44,219.15L337.94,219.18L337.44,219.21L336.94,219.24L336.44,219.27L335.95,219.29L335.45,219.32L334.95,219.35L334.45,219.38L333.95,219.41L333.45,219.44L332.96,219.47L332.46,219.50L331.96,219.53L331.46,219.56L330.96,219.60L330.46,219.63L329.97,219.66L329.47,219.69L328.97,219.72L328.47,219.76L327.97,219.79L327.48,219.82L326.98,219.86L326.48,219.89L325.98,219.92L325.48,219.96L324.99,219.99L324.49,220.03L323.99,220.06L323.49,220.10L322.99,220.13L322.50,220.17L322.00,220.21L321.50,220.24L321.00,220.28L320.51,220.31L320.01,220.35L319.51,220.39L319.01,220.43L318.51,220.46L318.02,220.50L317.52,220.54L317.02,220.58L316.52,220.62L316.03,220.66L315.53,220.70L315.03,220.74L314.53,220.78L314.04,220.82L313.54,220.86L313.04,220.90L312.54,220.94L312.05,220.98L311.55,221.02L311.05,221.06L310.55,221.10L310.06,221.14L309.56,221.19L309.06,221.23L308.57,221.27L308.07,221.31L307.57,221.36L307.07,221.40L306.58,221.44L306.08,221.49L305.58,221.53L305.09,221.58L304.59,221.62L304.09,221.67L303.59,221.71L303.10,221.76L302.60,221.80L302.10,221.85L301.61,221.89L301.11,221.94L300.61,221.98L300.11,222.03L299.62,222.08L299.12,222.12L298.62,222.17L298.13,222.22L297.63,222.27L297.13,222.31L296.64,222.36L296.14,222.41L295.64,222.46L295.15,222.51L294.65,222.55L294.15,222.60L293.66,222.65L293.16,222.70L292.66,222.75L292.17,222.80L291.67,222.85L291.17,222.90L290.68,222.95L290.18,223.00L289.68,223.05L289.19,223.10L288.69,223.15L288.19,223.20L287.70,223.26L287.20,223.31L286.70,223.36L286.21,223.41L285.71,223.46L285.21,223.52L284.72,223.57L284.22,223.62L283.72,223.67L283.23,223.73L282.73,223.78L282.23,223.83L281.74,223.89L281.24,223.94L280.74,223.99L280.25,224.05L279.75,224.10L279.25,224.16L278.76,224.21L278.26,224.27L277.77,224.32L277.27,224.38L276.77,224.43L276.28,224.49L275.78,224.54L275.28,224.60L274.79,224.66L274.29,224.71L273.79,224.77L273.30,224.82L272.80,224.88L272.31,224.94L271.81,224.99L271.31,225.05L270.82,225.11L270.32,225.17L269.82,225.22L269.33,225.28L268.83,225.34L268.34,225.40L267.84,225.46L267.34,225.51L266.85,225.57L266.35,225.63L265.85,225.69L265.36,225.75L264.86,225.81L264.37,225.87L263.87,225.93L263.37,225.99L262.88,226.05L262.38,226.11L261.89,226.17L261.39,226.23L260.89,226.29L260.40,226.35L259.90,226.41L259.40,226.47L258.91,226.53L258.41,226.59L257.92,226.65L257.42,226.71L256.92,226.77L256.43,226.83L255.93,226.90L255.44,226.96L254.94,227.02L254.44,227.08L253.95,227.14L253.45,227.21L252.96,227.27L252.46,227.33L251.96,227.39L251.47,227.46L250.97,227.52L250.48,227.58L249.98,227.64L249.48,227.71L248.99,227.77L248.49,227.83L248.00,227.90L247.50,227.96L247.00,228.03L246.51,228.09L246.01,228.15L245.52,228.22L245.02,228.28L244.52,228.35L244.03,228.41L243.53,228.47L243.04,228.54L242.54,228.60L242.04,228.67L241.55,228.73L241.05,228.80L240.56,228.86L240.06,228.93L239.56,228.99L239.07,229.06L238.57,229.13L238.08,229.19L237.58,229.26L237.08,229.32L236.59,229.39L236.09,229.45L235.60,229.52L235.10,229.59L234.60,229.65L234.11,229.72L233.61,229.79L233.12,229.85L232.62,229.92L232.12,229.99L231.63,230.05L231.13,230.12L230.64,230.19L230.14,230.25L229.64,230.32L229.15,230.39L228.65,230.45L228.16,230.52L227.66,230.59L227.16,230.66L226.67,230.72L226.17,230.79L225.68,230.86L225.18,230.93L224.68,231.00L224.19,231.06L223.69,231.13L223.20,231.20L222.70,231.27L222.20,231.34L221.71,231.40L221.21,231.47L220.72,231.54L220.22,231.61L219.72,231.68L219.23,231.75L218.73,231.81L218.24,231.88L217.74,231.95L217.24,232.02L216.75,232.09L216.25,232.16L215.75,232.23L215.26,232.30L214.76,232.36L214.27,232.43L213.77,232.50L213.27,232.57L212.78,232.64L212.28,232.71L211.79,232.78L211.29,232.85L210.79,232.92L210.30,232.99L209.80,233.06L209.31,233.13L208.81,233.20L208.31,233.27L207.82,233.34L207.32,233.41L206.82,233.48L206.33,233.55L205.83,233.62L205.34,233.68L204.84,233.75L204.34,233.82L203.85,233.89L203.35,233.96L202.85,234.03L202.36,234.10L201.86,234.17L201.37,234.24L200.87,234.31L200.37,234.38L199.88,234.45L199.38,234.53L198.88,234.60L198.39,234.67L197.89,234.74L197.39,234.81L196.90,234.88L196.40,234.95L195.91,235.02L195.41,235.09L194.91,235.16L194.42,235.23L193.92,235.30L193.42,235.37L192.93,235.44L192.43,235.51L191.93,235.58L191.44,235.65L190.94,235.72L190.44,235.79L189.95,235.86L189.45,235.93L188.95,236.00L188.46,236.07L187.96,236.14L187.46,236.21L186.97,236.28L186.47,236.35L185.97,236.42L185.48,236.49L184.98,236.56L184.48,236.64L183.99,236.71L183.49,236.78L182.99,236.85L182.50,236.92L182.00,236.99L181.50,237.06L181.01,237.13L180.51,237.20L180.01,237.27L179.52,237.34L179.02,237.41L178.52,237.48L178.03,237.55L177.53,237.62L177.03,237.69L176.54,237.76L176.04,237.83L175.54,237.90L175.05,237.97L174.55,238.04L174.05,238.11L173.55,238.18L173.06,238.25L172.56,238.32L172.06,238.39L171.57,238.46L171.07,238.53L170.57,238.60L170.08,238.68L169.58,238.75L169.08,238.82L168.59,238.89L168.09,238.96L167.59,239.03L167.10,239.10L166.60,239.18L166.11,239.25L165.61,239.32L165.11,239.40L164.62,239.47L164.12,239.54L163.62,239.62L163.13,239.69L162.63,239.77L162.14,239.84L161.64,239.92L161.15,239.99L160.65,240.07L160.16,240.14L159.66,240.22L159.17,240.30L158.67,240.37L158.18,240.45L157.68,240.53L157.19,240.61L156.69,240.69L156.20,240.77L155.71,240.85L155.21,240.93L154.72,241.01L154.22,241.09L153.73,241.17L153.24,241.26L152.75,241.34L152.25,241.42L151.76,241.51L151.27,241.59L150.78,241.68L150.28,241.77L149.79,241.85L149.30,241.94L148.81,242.03L148.32,242.12L147.83,242.21L147.33,242.30L146.84,242.39L146.35,242.48L145.86,242.57L145.37,242.67L144.88,242.76L144.39,242.85L143.91,242.95L143.42,243.05L142.93,243.14L142.44,243.24L141.95,243.34L141.46,243.44L140.98,243.54L140.49,243.64L140.00,243.74L139.51,243.84L139.03,243.95L138.54,244.05L138.06,244.16L137.57,244.26L137.08,244.37L136.60,244.48L136.11,244.59L135.63,244.70L135.15,244.81L134.66,244.92L134.18,245.04L133.69,245.15L133.21,245.27L132.73,245.38L132.25,245.50L131.76,245.62L131.28,245.74L130.80,245.86L130.32,245.98L129.84,246.10L129.36,246.23L128.88,246.35L128.40,246.48L127.92,246.61L127.44,246.74L126.97,246.87L126.49,247.00L126.01,247.13L125.53,247.26L125.06,247.40L124.58,247.53L124.10,247.67L123.63,247.81L123.15,247.95L122.68,248.09L122.20,248.23L121.73,248.38L121.26,248.52L120.78,248.67L120.31,248.81L119.84,248.96L119.37,249.11L118.90,249.27L118.42,249.42L117.95,249.57L117.48,249.73L117.01,249.89L116.55,250.05L116.08,250.21L115.61,250.37L115.14,250.53L114.67,250.70L114.21,250.86L113.74,251.03L113.28,251.20L112.81,251.37L112.35,251.54L111.88,251.72L111.42,251.89L110.96,252.07L110.49,252.25L110.03,252.43L109.57,252.61L109.11,252.80L108.65,252.98L108.19,253.17L107.73,253.36L107.27,253.55L106.81,253.74L106.35,253.93L105.89,254.13L105.44,254.33L104.98,254.52L104.53,254.73L104.07,254.93L103.62,255.13L103.16,255.34L102.71,255.55L102.26,255.76L101.80,255.97L101.35,256.18L100.90,256.40L100.45,256.61L100.00,256.83L99.55,257.05L99.10,257.28L98.66,257.50L98.21,257.73L97.76,257.96L97.32,258.19L96.87,258.42L96.43,258.65L95.98,258.89L95.54,259.13L95.10,259.37L94.65,259.61L94.21,259.86L93.77,260.10L93.33,260.35L92.89,260.60L92.45,260.85L92.01,261.11L91.58,261.37L91.14,261.63L90.70,261.89L90.27,262.15L89.83,262.42L89.40,262.68L88.96,262.95L88.53,263.23L88.10,263.50L87.67,263.78L87.24,264.05L86.81,264.34L86.38,264.62L85.95,264.90L85.52,265.19L85.10,265.48L84.67,265.77L84.24,266.07L83.82,266.36L83.39,266.66L82.97,266.97L82.55,267.27L82.13,267.58L81.71,267.88L81.29,268.20L80.87,268.51L80.45,268.82Z" fill="#009E73" fill-opacity="0.192"/>
<g stroke-opacity="0.88" stroke-linecap="round">
<path d="M80.60,198.80L684.00,198.80" fill="none" stroke="#10a57b" stroke-width="2.2" stroke-linejoin="round"/>
<path d="M80.59,182.14C82.26,181.99 83.94,181.86 85.62,181.74C87.30,181.61 88.98,181.50 90.65,181.39C92.33,181.28 94.01,181.18 95.69,181.09C97.37,181.00 99.04,180.91 100.72,180.84C102.40,180.76 104.08,180.69 105.76,180.63C107.43,180.57 109.11,180.52 110.79,180.47C112.47,180.42 114.15,180.38 115.82,180.34C117.50,180.31 119.18,180.28 120.86,180.26C122.53,180.23 124.21,180.21 125.89,180.20C127.57,180.19 129.24,180.18 130.92,180.18C132.60,180.18 134.28,180.18 135.96,180.19C137.63,180.20 139.31,180.21 140.99,180.22C142.67,180.24 144.34,180.26 146.02,180.28C147.70,180.31 149.38,180.33 151.05,180.37C152.73,180.40 154.41,180.43 156.09,180.47C157.76,180.50 159.44,180.54 161.12,180.58C162.80,180.63 164.48,180.67 166.15,180.72C167.83,180.76 169.51,180.81 171.19,180.86C172.86,180.91 174.54,180.96 176.22,181.01C177.90,181.07 179.57,181.12 181.25,181.17C182.93,181.23 184.61,181.28 186.29,181.34C187.96,181.39 189.64,181.45 191.32,181.50C193.00,181.56 194.67,181.61 196.35,181.67C198.03,181.72 199.71,181.78 201.39,181.83C203.06,181.88 204.74,181.94 206.42,181.99C208.10,182.04 209.78,182.09 211.45,182.14C213.13,182.18 214.81,182.23 216.49,182.27C218.17,182.32 219.84,182.36 221.52,182.40C223.20,182.44 224.88,182.47 226.56,182.51C228.24,182.54 229.91,182.57 231.59,182.60C233.27,182.62 234.95,182.65 236.63,182.66C238.31,182.68 239.98,182.70 241.66,182.71C243.34,182.72 245.02,182.73 246.70,182.73C248.38,182.73 250.06,182.73 251.73,182.73C253.41,182.73 255.09,182.72 256.77,182.71C258.45,182.70 260.13,182.68 261.81,182.66C263.49,182.65 265.16,182.63 266.84,182.60C268.52,182.58 270.20,182.55 271.88,182.53C273.56,182.50 275.24,182.47 276.92,182.43C278.60,182.40 280.28,182.37 281.95,182.33C283.63,182.29 285.31,182.25 286.99,182.21C288.67,182.17 290.35,182.13 292.03,182.09C293.71,182.04 295.39,182.00 297.06,181.95C298.74,181.91 300.42,181.86 302.10,181.81C303.78,181.76 305.46,181.71 307.14,181.67C308.82,181.62 310.50,181.57 312.18,181.52C313.85,181.47 315.53,181.42 317.21,181.36C318.89,181.31 320.57,181.26 322.25,181.21C323.93,181.16 325.61,181.11 327.29,181.06C328.96,181.01 330.64,180.96 332.32,180.92C334.00,180.87 335.68,180.82 337.36,180.77C339.04,180.73 340.72,180.68 342.39,180.64C344.07,180.60 345.75,180.55 347.43,180.51C349.11,180.47 350.79,180.43 352.46,180.39C354.14,180.36 355.82,180.32 357.50,180.29C359.18,180.25 360.86,180.22 362.53,180.19C364.21,180.16 365.89,180.14 367.57,180.11C369.25,180.09 370.92,180.07 372.60,180.05C374.28,180.03 375.96,180.02 377.64,180.01C379.31,179.99 380.99,179.98 382.67,179.98C384.35,179.97 386.02,179.97 387.70,179.97C389.38,179.98 391.06,179.98 392.73,179.99C394.41,180.00 396.09,180.02 397.76,180.03C399.44,180.05 401.12,180.08 402.80,180.10C404.47,180.13 406.15,180.16 407.83,180.20C409.50,180.23 411.18,180.28 412.86,180.32C414.53,180.37 416.21,180.42 417.88,180.48C419.56,180.54 421.24,180.60 422.91,180.67C424.59,180.73 426.26,180.81 427.94,180.89C429.62,180.97 431.29,181.05 432.97,181.15C434.64,181.24 436.32,181.34 437.99,181.44C439.67,181.55 441.34,181.66 443.02,181.78C444.69,181.90 446.37,182.03 448.04,182.17C449.71,182.31 451.38,182.47 453.05,182.64C454.72,182.81 456.38,182.99 458.05,183.19C459.71,183.40 461.37,183.62 463.03,183.85C464.69,184.09 466.34,184.35 467.99,184.64C469.64,184.92 471.29,185.23 472.93,185.56C474.57,185.89 476.20,186.25 477.84,186.63C479.47,187.02 481.09,187.43 482.71,187.87C484.33,188.32 485.95,188.79 487.56,189.28C489.17,189.78 490.77,190.30 492.37,190.84C493.97,191.38 495.56,191.94 497.14,192.52C498.73,193.09 500.31,193.69 501.89,194.30C503.46,194.91 505.03,195.54 506.60,196.17C508.16,196.81 509.72,197.46 511.27,198.11C512.82,198.76 514.37,199.43 515.91,200.09C517.45,200.76 518.99,201.43 520.51,202.12C522.04,202.81 523.55,203.51 525.05,204.24C526.56,204.97 528.04,205.72 529.52,206.51C530.99,207.29 532.45,208.11 533.88,208.97C535.32,209.82 536.74,210.71 538.15,211.62C539.57,212.53 540.97,213.46 542.37,214.39C543.77,215.33 545.17,216.26 546.57,217.19C547.97,218.12 549.37,219.03 550.79,219.93C552.20,220.83 553.62,221.72 555.04,222.60C556.46,223.48 557.88,224.36 559.31,225.22C560.73,226.09 562.16,226.96 563.59,227.82C565.02,228.69 566.44,229.55 567.87,230.41C569.30,231.28 570.72,232.15 572.15,233.03C573.57,233.90 574.99,234.78 576.41,235.68C577.82,236.57 579.23,237.47 580.64,238.39C582.04,239.31 583.44,240.24 584.84,241.18C586.23,242.13 587.62,243.10 588.99,244.08C590.37,245.06 591.73,246.07 593.08,247.08C594.43,248.10 595.77,249.14 597.10,250.20C598.42,251.25 599.73,252.33 601.02,253.42C602.31,254.52 603.59,255.63 604.84,256.77C606.09,257.90 607.32,259.05 608.53,260.23C609.74,261.40 610.92,262.59 612.08,263.81C613.24,265.02 614.38,266.26 615.48,267.52C616.58,268.78 617.66,270.06 618.71,271.36C619.75,272.66 620.77,273.98 621.75,275.33C622.73,276.67 623.67,278.04 624.58,279.43C625.49,280.82 626.37,282.24 627.20,283.67C628.04,285.11 628.85,286.57 629.62,288.04C630.39,289.52 631.13,291.02 631.84,292.53C632.55,294.04 633.23,295.57 633.89,297.11C634.55,298.65 635.18,300.21 635.78,301.78C636.39,303.35 636.97,304.93 637.53,306.52C638.10,308.11 638.64,309.71 639.16,311.31C639.69,312.92 640.20,314.53 640.69,316.15C641.18,317.77 641.66,319.39 642.12,321.02C642.59,322.64 643.04,324.27 643.48,325.90C643.93,327.52 644.36,329.15 644.79,330.78C645.22,332.40 645.63,334.03 646.04,335.65C646.45,337.28 646.85,338.90 647.25,340.53C647.64,342.16 648.02,343.78 648.40,345.41C648.77,347.04 649.13,348.67 649.49,350.30C649.85,351.93 650.19,353.57 650.53,355.20C650.86,356.84 651.19,358.47 651.51,360.12C651.83,361.76 652.13,363.40 652.43,365.05C652.73,366.70 653.01,368.35 653.29,370.00C653.57,371.66 653.83,373.32 654.09,374.98C654.34,376.65 654.59,378.31 654.82,379.99C655.05,381.66 655.28,383.34 655.49,385.03" fill="none" stroke="#56B4E9" stroke-width="1.65" stroke-linejoin="round"/>
<path d="M80.58,202.45C82.25,202.36 83.93,202.27 85.61,202.19C87.29,202.11 88.96,202.03 90.64,201.96C92.32,201.88 93.99,201.81 95.67,201.74C97.35,201.67 99.03,201.61 100.70,201.55C102.38,201.49 104.06,201.43 105.73,201.37C107.41,201.32 109.09,201.26 110.76,201.21C112.44,201.16 114.12,201.12 115.79,201.07C117.47,201.03 119.15,200.99 120.83,200.95C122.50,200.91 124.18,200.88 125.86,200.84C127.53,200.81 129.21,200.78 130.89,200.75C132.56,200.72 134.24,200.70 135.92,200.67C137.59,200.65 139.27,200.63 140.95,200.61C142.62,200.59 144.30,200.57 145.98,200.56C147.65,200.54 149.33,200.53 151.01,200.52C152.68,200.51 154.36,200.50 156.04,200.49C157.71,200.48 159.39,200.48 161.07,200.48C162.74,200.47 164.42,200.47 166.10,200.47C167.77,200.47 169.45,200.47 171.13,200.47C172.80,200.48 174.48,200.48 176.16,200.49C177.83,200.49 179.51,200.50 181.19,200.51C182.86,200.52 184.54,200.52 186.22,200.53C187.89,200.55 189.57,200.56 191.25,200.57C192.92,200.58 194.60,200.60 196.28,200.61C197.96,200.62 199.63,200.64 201.31,200.66C202.99,200.67 204.66,200.69 206.34,200.71C208.02,200.72 209.69,200.74 211.37,200.76C213.05,200.78 214.72,200.80 216.40,200.82C218.08,200.83 219.75,200.85 221.43,200.87C223.11,200.89 224.78,200.91 226.46,200.93C228.14,200.95 229.81,200.97 231.49,201.00C233.17,201.02 234.84,201.04 236.52,201.06C238.20,201.08 239.88,201.10 241.55,201.12C243.23,201.14 244.91,201.16 246.58,201.18C248.26,201.19 249.94,201.21 251.61,201.23C253.29,201.25 254.97,201.27 256.65,201.29C258.32,201.30 260.00,201.32 261.68,201.34C263.35,201.35 265.03,201.37 266.71,201.38C268.39,201.40 270.06,201.41 271.74,201.42C273.42,201.44 275.09,201.45 276.77,201.46C278.45,201.47 280.13,201.48 281.80,201.49C283.48,201.50 285.16,201.50 286.84,201.51C288.51,201.52 290.19,201.52 291.87,201.52C293.54,201.53 295.22,201.53 296.90,201.53C298.58,201.53 300.25,201.53 301.93,201.52C303.61,201.52 305.29,201.52 306.97,201.51C308.64,201.50 310.32,201.49 312.00,201.48C313.68,201.47 315.35,201.46 317.03,201.45C318.71,201.43 320.39,201.42 322.07,201.40C323.74,201.38 325.42,201.36 327.10,201.33C328.78,201.31 330.45,201.29 332.13,201.26C333.81,201.23 335.49,201.20 337.17,201.17C338.85,201.14 340.52,201.10 342.20,201.07C343.88,201.03 345.56,200.99 347.24,200.96C348.91,200.92 350.59,200.88 352.27,200.83C353.95,200.79 355.63,200.75 357.31,200.71C358.98,200.66 360.66,200.62 362.34,200.57C364.02,200.53 365.70,200.48 367.37,200.44C369.05,200.39 370.73,200.35 372.41,200.30C374.09,200.25 375.76,200.21 377.44,200.16C379.12,200.11 380.80,200.07 382.48,200.02C384.15,199.98 385.83,199.93 387.51,199.89C389.19,199.84 390.86,199.80 392.54,199.76C394.22,199.71 395.90,199.67 397.57,199.63C399.25,199.59 400.93,199.55 402.60,199.51C404.28,199.48 405.96,199.44 407.64,199.41C409.31,199.37 410.99,199.34 412.67,199.31C414.34,199.28 416.02,199.25 417.69,199.22C419.37,199.20 421.05,199.17 422.72,199.15C424.40,199.13 426.08,199.11 427.75,199.10C429.43,199.08 431.10,199.07 432.78,199.06C434.45,199.05 436.13,199.05 437.80,199.04C439.48,199.04 441.15,199.04 442.83,199.04C444.50,199.05 446.18,199.06 447.85,199.07C449.53,199.08 451.20,199.10 452.87,199.12C454.55,199.14 456.22,199.16 457.89,199.19C459.57,199.22 461.24,199.25 462.91,199.29C464.59,199.33 466.26,199.37 467.93,199.41C469.61,199.46 471.28,199.51 472.95,199.56C474.62,199.60 476.30,199.66 477.97,199.71C479.64,199.76 481.31,199.81 482.99,199.86C484.66,199.91 486.33,199.96 488.01,200.01C489.68,200.06 491.35,200.11 493.03,200.16C494.70,200.20 496.38,200.24 498.05,200.28C499.72,200.32 501.40,200.35 503.07,200.38C504.75,200.41 506.43,200.44 508.10,200.46C509.78,200.47 511.46,200.49 513.13,200.49C514.81,200.50 516.49,200.49 518.17,200.48C519.85,200.47 521.53,200.45 523.21,200.42C524.89,200.39 526.57,200.36 528.25,200.31C529.93,200.26 531.61,200.20 533.30,200.13C534.98,200.06 536.67,199.97 538.35,199.88C540.04,199.78 541.73,199.67 543.41,199.55C545.10,199.43 546.79,199.29 548.48,199.14C550.17,198.98 551.86,198.82 553.55,198.63C555.24,198.44 556.92,198.23 558.60,197.99C560.28,197.76 561.95,197.50 563.62,197.21C565.28,196.92 566.93,196.59 568.57,196.24C570.21,195.88 571.84,195.49 573.45,195.05C575.06,194.62 576.65,194.15 578.22,193.63C579.80,193.11 581.35,192.55 582.88,191.93C584.41,191.32 585.92,190.65 587.40,189.94C588.88,189.22 590.33,188.44 591.75,187.61C593.18,186.78 594.57,185.90 595.94,184.97C597.30,184.04 598.64,183.06 599.95,182.03C601.25,181.01 602.53,179.94 603.77,178.83C605.02,177.71 606.23,176.56 607.41,175.38C608.59,174.19 609.74,172.96 610.85,171.71C611.97,170.45 613.05,169.16 614.10,167.85C615.15,166.53 616.16,165.18 617.14,163.82C618.12,162.45 619.06,161.06 619.97,159.64C620.87,158.23 621.74,156.80 622.58,155.35C623.42,153.90 624.22,152.43 625.00,150.95C625.77,149.47 626.51,147.97 627.23,146.45C627.94,144.94 628.63,143.41 629.29,141.86C629.95,140.32 630.59,138.77 631.20,137.20C631.82,135.63 632.41,134.05 632.98,132.47C633.54,130.88 634.09,129.28 634.62,127.68C635.16,126.07 635.67,124.46 636.17,122.84C636.66,121.22 637.15,119.59 637.62,117.96C638.09,116.33 638.54,114.70 638.99,113.06C639.44,111.43 639.87,109.79 640.30,108.15C640.73,106.51 641.15,104.86 641.57,103.22C641.98,101.58 642.39,99.94 642.80,98.31C643.21,96.67 643.62,95.03 644.02,93.40C644.43,91.77 644.83,90.14 645.23,88.52C645.64,86.89 646.04,85.27 646.44,83.64C646.84,82.02 647.23,80.40 647.63,78.79C648.02,77.17 648.41,75.55 648.80,73.94C649.19,72.32 649.58,70.70 649.97,69.09C650.35,67.47 650.73,65.86 651.11,64.24C651.49,62.63 651.86,61.01 652.23,59.39C652.60,57.77 652.97,56.16 653.33,54.54C653.70,52.92 654.06,51.29 654.41,49.67C654.77,48.04 655.12,46.42 655.46,44.79C655.81,43.16 656.15,41.52 656.48,39.89C656.82,38.25 657.15,36.61 657.47,34.96C657.80,33.32 658.12,31.67 658.43,30.02C658.74,28.36 659.05,26.70 659.35,25.04C659.65,23.37 659.95,21.70 660.23,20.03C660.52,18.35 660.80,16.67 661.08,14.98C661.35,13.29 661.62,11.59 661.88,9.89" fill="none" stroke="#E69F00" stroke-width="1.65" stroke-linejoin="round"/>
<path d="M80.60,203.65C82.27,203.50 83.94,203.36 85.61,203.23C87.28,203.11 88.95,203.00 90.62,202.90C92.29,202.79 93.96,202.70 95.63,202.62C97.30,202.54 98.97,202.47 100.64,202.41C102.31,202.35 103.99,202.29 105.66,202.25C107.33,202.20 109.00,202.16 110.67,202.13C112.35,202.10 114.02,202.07 115.69,202.05C117.36,202.03 119.04,202.01 120.71,202.00C122.38,201.99 124.05,201.98 125.73,201.98C127.40,201.98 129.07,201.97 130.74,201.97C132.42,201.97 134.09,201.98 135.76,201.98C137.44,201.98 139.11,201.98 140.78,201.99C142.46,201.99 144.13,201.99 145.80,202.00C147.47,202.00 149.15,202.00 150.82,202.01C152.49,202.01 154.17,202.01 155.84,202.02C157.51,202.02 159.19,202.02 160.86,202.03C162.53,202.03 164.20,202.04 165.88,202.04C167.55,202.04 169.22,202.05 170.90,202.05C172.57,202.06 174.24,202.06 175.92,202.07C177.59,202.07 179.26,202.08 180.93,202.08C182.61,202.09 184.28,202.09 185.95,202.10C187.63,202.10 189.30,202.11 190.97,202.11C192.64,202.12 194.32,202.13 195.99,202.13C197.66,202.14 199.34,202.14 201.01,202.15C202.68,202.16 204.35,202.16 206.03,202.17C207.70,202.18 209.37,202.18 211.05,202.19C212.72,202.20 214.39,202.21 216.06,202.21C217.74,202.22 219.41,202.23 221.08,202.24C222.76,202.25 224.43,202.25 226.10,202.26C227.78,202.27 229.45,202.28 231.12,202.29C232.79,202.30 234.47,202.31 236.14,202.32C237.81,202.33 239.48,202.34 241.16,202.35C242.83,202.36 244.50,202.37 246.18,202.38C247.85,202.39 249.52,202.40 251.19,202.41C252.87,202.42 254.54,202.43 256.21,202.44C257.89,202.45 259.56,202.46 261.23,202.48C262.90,202.49 264.58,202.50 266.25,202.51C267.92,202.53 269.60,202.54 271.27,202.55C272.94,202.56 274.61,202.58 276.29,202.59C277.96,202.61 279.63,202.62 281.31,202.63C282.98,202.65 284.65,202.66 286.32,202.68C288.00,202.69 289.67,202.71 291.34,202.72C293.01,202.73 294.69,202.75 296.36,202.76C298.03,202.78 299.71,202.79 301.38,202.81C303.05,202.82 304.72,202.84 306.40,202.85C308.07,202.87 309.74,202.88 311.41,202.90C313.09,202.91 314.76,202.93 316.43,202.94C318.11,202.96 319.78,202.97 321.45,202.99C323.12,203.00 324.80,203.02 326.47,203.03C328.14,203.04 329.82,203.06 331.49,203.07C333.16,203.09 334.83,203.10 336.51,203.11C338.18,203.13 339.85,203.14 341.53,203.15C343.20,203.17 344.87,203.18 346.54,203.19C348.22,203.20 349.89,203.21 351.56,203.23C353.23,203.24 354.91,203.25 356.58,203.26C358.25,203.27 359.93,203.28 361.60,203.29C363.27,203.30 364.94,203.31 366.62,203.32C368.29,203.33 369.96,203.34 371.64,203.34C373.31,203.35 374.98,203.36 376.66,203.36C378.33,203.37 380.00,203.38 381.67,203.38C383.35,203.39 385.02,203.39 386.69,203.40C388.37,203.40 390.04,203.40 391.71,203.41C393.38,203.41 395.06,203.41 396.73,203.41C398.40,203.42 400.08,203.42 401.75,203.42C403.42,203.42 405.10,203.41 406.77,203.41C408.44,203.41 410.12,203.41 411.79,203.40C413.46,203.40 415.13,203.40 416.81,203.39C418.48,203.39 420.15,203.38 421.83,203.37C423.50,203.37 425.17,203.36 426.85,203.35C428.52,203.35 430.19,203.34 431.87,203.34C433.54,203.34 435.21,203.34 436.88,203.34C438.56,203.35 440.23,203.36 441.90,203.37C443.57,203.39 445.25,203.41 446.92,203.44C448.59,203.47 450.26,203.51 451.93,203.55C453.61,203.60 455.28,203.65 456.95,203.72C458.62,203.78 460.29,203.85 461.96,203.92C463.63,203.98 465.30,204.04 466.97,204.08C468.64,204.12 470.32,204.16 471.99,204.18C473.66,204.20 475.33,204.21 477.00,204.22C478.68,204.23 480.35,204.23 482.02,204.23C483.69,204.23 485.37,204.22 487.04,204.21C488.71,204.21 490.39,204.20 492.06,204.19C493.73,204.19 495.41,204.18 497.08,204.18C498.76,204.18 500.43,204.19 502.11,204.20C503.78,204.21 505.46,204.23 507.13,204.24C508.81,204.26 510.48,204.28 512.16,204.29C513.83,204.30 515.50,204.31 517.18,204.31C518.85,204.32 520.52,204.31 522.20,204.29C523.87,204.28 525.54,204.25 527.21,204.21C528.88,204.17 530.55,204.11 532.22,204.03C533.89,203.95 535.55,203.86 537.22,203.74C538.88,203.62 540.55,203.48 542.21,203.31C543.87,203.14 545.53,202.94 547.19,202.72C548.85,202.49 550.51,202.23 552.16,201.94C553.81,201.65 555.46,201.33 557.09,200.98C558.73,200.63 560.37,200.25 561.99,199.83C563.61,199.42 565.22,198.97 566.81,198.50C568.41,198.02 569.99,197.50 571.55,196.92C573.11,196.34 574.65,195.70 576.16,194.98C577.67,194.27 579.16,193.49 580.62,192.65C582.08,191.82 583.51,190.93 584.90,189.99C586.30,189.05 587.67,188.06 589.00,187.04C590.33,186.01 591.62,184.95 592.89,183.86C594.15,182.76 595.38,181.63 596.58,180.47C597.77,179.30 598.94,178.11 600.08,176.89C601.21,175.66 602.32,174.41 603.39,173.13C604.47,171.86 605.51,170.55 606.53,169.23C607.55,167.90 608.54,166.55 609.50,165.18C610.47,163.81 611.40,162.43 612.32,161.02C613.23,159.62 614.12,158.19 614.98,156.76C615.85,155.32 616.69,153.88 617.52,152.42C618.35,150.96 619.17,149.50 619.98,148.03C620.79,146.56 621.59,145.09 622.38,143.61C623.18,142.14 623.97,140.67 624.77,139.19C625.56,137.72 626.36,136.26 627.17,134.80C627.98,133.34 628.80,131.89 629.63,130.45C630.46,129.01 631.29,127.58 632.11,126.13C632.92,124.68 633.71,123.22 634.45,121.71C635.18,120.21 635.86,118.66 636.51,117.10C637.16,115.54 637.80,113.96 638.46,112.41C639.13,110.85 639.83,109.32 640.62,107.85C641.41,106.38 642.28,104.97 643.29,103.66C644.30,102.34 645.44,101.12 646.78,100.03C648.11,98.95 649.65,97.94 651.22,97.78C652.78,97.62 654.39,98.44 655.62,99.63C656.85,100.81 657.77,102.38 658.60,103.92C659.43,105.47 660.17,106.99 660.83,108.51C661.48,110.04 662.05,111.57 662.54,113.13C663.02,114.69 663.42,116.30 663.77,117.92C664.12,119.55 664.42,121.20 664.72,122.86C665.02,124.51 665.33,126.17 665.68,127.82C666.03,129.46 666.45,131.08 666.91,132.69C667.37,134.30 667.85,135.90 668.28,137.51C668.72,139.12 669.11,140.74 669.47,142.37C669.83,144.00 670.15,145.64 670.45,147.28C670.75,148.93 671.03,150.58 671.30,152.24C671.56,153.89 671.81,155.55 672.05,157.21C672.29,158.86 672.53,160.52 672.77,162.18C673.00,163.84 673.23,165.50 673.46,167.16C673.69,168.82 673.91,170.48 674.13,172.14C674.35,173.80 674.57,175.46 674.78,177.12C674.99,178.78 675.20,180.44 675.41,182.10C675.61,183.76 675.81,185.42 676.01,187.08C676.21,188.74 676.41,190.40 676.60,192.06C676.79,193.72 676.98,195.39 677.17,197.05C677.36,198.71 677.54,200.37 677.72,202.03C677.90,203.70 678.08,205.36 678.26,207.02C678.43,208.69 678.60,210.35 678.77,212.01C678.94,213.68 679.11,215.34 679.27,217.00C679.44,218.67 679.60,220.33 679.76,222.00C679.92,223.66 680.08,225.33 680.23,226.99C680.39,228.66 680.54,230.32 680.69,231.99C680.84,233.65 680.99,235.32 681.14,236.99C681.29,238.65 681.43,240.32 681.57,241.99C681.72,243.65 681.86,245.32 682.00,246.99C682.14,248.66 682.27,250.32 682.41,251.99C682.55,253.66 682.68,255.33 682.81,257.00C682.95,258.67 683.08,260.33 683.21,262.00" fill="none" stroke="#c0c0c0" stroke-width="1.5" stroke-linejoin="round"/>
<path d="M80.64,181.76C82.30,181.59 83.95,181.44 85.61,181.30C87.27,181.15 88.94,181.02 90.60,180.90C92.26,180.78 93.92,180.67 95.59,180.57C97.25,180.47 98.91,180.38 100.58,180.30C102.24,180.23 103.91,180.16 105.57,180.09C107.24,180.03 108.91,179.98 110.57,179.94C112.24,179.89 113.91,179.86 115.58,179.83C117.25,179.80 118.92,179.78 120.59,179.77C122.26,179.76 123.93,179.75 125.60,179.75C127.27,179.75 128.94,179.76 130.61,179.77C132.28,179.78 133.95,179.80 135.62,179.82C137.30,179.84 138.97,179.87 140.64,179.90C142.31,179.94 143.99,179.97 145.66,180.01C147.33,180.05 149.01,180.10 150.68,180.15C152.35,180.19 154.03,180.24 155.70,180.30C157.37,180.35 159.05,180.40 160.72,180.46C162.39,180.52 164.07,180.58 165.74,180.64C167.41,180.70 169.09,180.76 170.76,180.82C172.43,180.88 174.11,180.94 175.78,181.00C177.45,181.06 179.13,181.13 180.80,181.19C182.47,181.25 184.15,181.31 185.82,181.37C187.49,181.42 189.16,181.48 190.83,181.54C192.51,181.59 194.18,181.64 195.85,181.69C197.52,181.74 199.19,181.79 200.86,181.83C202.53,181.88 204.20,181.92 205.87,181.96C207.54,181.99 209.21,182.03 210.88,182.06C212.55,182.09 214.22,182.12 215.89,182.15C217.55,182.18 219.22,182.20 220.89,182.22C222.56,182.24 224.22,182.26 225.89,182.28C227.56,182.30 229.23,182.31 230.89,182.32C232.56,182.33 234.23,182.34 235.89,182.35C237.56,182.36 239.22,182.36 240.89,182.36C242.56,182.37 244.22,182.37 245.89,182.37C247.55,182.37 249.22,182.36 250.88,182.36C252.55,182.35 254.21,182.35 255.88,182.34C257.54,182.33 259.21,182.32 260.87,182.31C262.54,182.29 264.20,182.28 265.87,182.26C267.53,182.25 269.20,182.23 270.86,182.21C272.53,182.20 274.19,182.18 275.86,182.16C277.52,182.14 279.19,182.11 280.85,182.09C282.52,182.07 284.18,182.04 285.85,182.02C287.51,181.99 289.18,181.96 290.84,181.94C292.51,181.91 294.17,181.88 295.84,181.85C297.50,181.82 299.17,181.79 300.83,181.76C302.50,181.73 304.17,181.70 305.83,181.66C307.50,181.63 309.16,181.60 310.83,181.57C312.50,181.53 314.16,181.50 315.83,181.46C317.50,181.43 319.16,181.39 320.83,181.36C322.50,181.32 324.17,181.29 325.83,181.25C327.50,181.22 329.17,181.18 330.84,181.15C332.51,181.11 334.18,181.07 335.85,181.04C337.52,181.00 339.18,180.97 340.85,180.93C342.52,180.90 344.19,180.86 345.87,180.83C347.54,180.79 349.21,180.76 350.88,180.72C352.55,180.69 354.22,180.66 355.89,180.62C357.57,180.59 359.24,180.56 360.91,180.52C362.59,180.49 364.26,180.46 365.93,180.43C367.61,180.40 369.28,180.37 370.96,180.34C372.63,180.31 374.31,180.28 375.99,180.25C377.66,180.23 379.34,180.20 381.02,180.18C382.69,180.15 384.37,180.13 386.05,180.10C387.73,180.08 389.41,180.06 391.09,180.04C392.77,180.02 394.45,180.00 396.13,179.98C397.81,179.97 399.49,179.96 401.17,179.95C402.86,179.94 404.54,179.93 406.22,179.93C407.90,179.93 409.58,179.94 411.26,179.95C412.94,179.96 414.62,179.98 416.29,180.01C417.97,180.04 419.65,180.07 421.32,180.11C423.00,180.16 424.67,180.21 426.34,180.27C428.02,180.34 429.69,180.41 431.35,180.50C433.02,180.58 434.69,180.68 436.35,180.79C438.02,180.90 439.68,181.02 441.34,181.15C443.00,181.29 444.65,181.44 446.31,181.61C447.96,181.77 449.61,181.95 451.26,182.15C452.90,182.35 454.55,182.56 456.19,182.80C457.83,183.03 459.47,183.28 461.10,183.55C462.73,183.82 464.36,184.11 465.98,184.42C467.61,184.72 469.23,185.05 470.84,185.40C472.46,185.75 474.07,186.13 475.67,186.52C477.28,186.92 478.88,187.34 480.48,187.78C482.07,188.22 483.66,188.69 485.25,189.18C486.83,189.67 488.41,190.19 489.98,190.73C491.56,191.27 493.13,191.84 494.69,192.44C496.25,193.03 497.80,193.65 499.35,194.28C500.90,194.92 502.44,195.58 503.98,196.26C505.52,196.94 507.04,197.64 508.57,198.36C510.09,199.08 511.61,199.82 513.11,200.57C514.62,201.32 516.13,202.09 517.62,202.87C519.11,203.65 520.60,204.45 522.08,205.26C523.56,206.06 525.03,206.88 526.50,207.71C527.96,208.54 529.42,209.38 530.87,210.23C532.32,211.08 533.76,211.94 535.19,212.80C536.62,213.66 538.05,214.53 539.47,215.40C540.90,216.27 542.32,217.14 543.73,218.01C545.15,218.88 546.57,219.75 547.98,220.61C549.40,221.48 550.82,222.33 552.24,223.18C553.66,224.04 555.09,224.88 556.52,225.71C557.95,226.54 559.38,227.36 560.83,228.16C562.27,228.97 563.72,229.75 565.19,230.52C566.65,231.29 568.12,232.05 569.61,232.78C571.10,233.51 572.60,234.21 574.12,234.90C575.63,235.58 577.16,236.24 578.71,236.87C580.26,237.50 581.83,238.10 583.42,238.67C585.01,239.23 586.62,239.78 588.23,240.30C589.84,240.83 591.46,241.34 593.07,241.86C594.68,242.37 596.29,242.88 597.87,243.41C599.46,243.94 601.03,244.48 602.58,245.04C604.13,245.61 605.66,246.20 607.18,246.80C608.70,247.41 610.22,248.04 611.74,248.69C613.26,249.34 614.78,250.02 616.31,250.71C617.84,251.41 619.37,252.14 620.89,252.90C622.40,253.66 623.89,254.47 625.35,255.32C626.81,256.17 628.23,257.07 629.60,258.02C630.97,258.98 632.28,260.00 633.52,261.09C634.77,262.18 635.93,263.34 637.03,264.56C638.13,265.78 639.17,267.06 640.15,268.40C641.13,269.73 642.05,271.11 642.93,272.54C643.81,273.96 644.65,275.42 645.45,276.90C646.25,278.39 647.02,279.90 647.76,281.43C648.50,282.96 649.22,284.50 649.93,286.05C650.64,287.60 651.33,289.14 652.02,290.69C652.71,292.23 653.40,293.76 654.09,295.27C654.79,296.79 655.49,298.28 656.20,299.77C656.91,301.25 657.62,302.72 658.33,304.19C659.05,305.66 659.77,307.13 660.49,308.60C661.20,310.07 661.92,311.55 662.64,313.04C663.36,314.53 664.07,316.03 664.78,317.56C665.49,319.08 666.20,320.63 666.90,322.20C667.61,323.77 668.31,325.36 669.05,326.92C669.80,328.48 670.57,330.01 671.40,331.49C672.23,332.97 673.12,334.39 674.10,335.72C675.07,337.04 676.14,338.27 677.31,339.37C678.49,340.47 679.77,341.44 681.20,342.24C682.63,343.04 684.20,343.67 685.97,343.84" fill="none" stroke="#0072B2" stroke-width="1.65" stroke-linejoin="round"/>
<path d="M80.60,176.71C82.27,176.77 83.94,176.83 85.60,176.89C87.27,176.95 88.94,177.01 90.60,177.08C92.27,177.14 93.94,177.20 95.61,177.26C97.27,177.32 98.94,177.38 100.61,177.44C102.28,177.49 103.94,177.55 105.61,177.61C107.28,177.67 108.95,177.73 110.61,177.79C112.28,177.84 113.95,177.90 115.61,177.96C117.28,178.02 118.95,178.07 120.62,178.13C122.28,178.18 123.95,178.24 125.62,178.29C127.29,178.35 128.95,178.40 130.62,178.46C132.29,178.51 133.96,178.57 135.62,178.62C137.29,178.68 138.96,178.73 140.63,178.78C142.29,178.83 143.96,178.89 145.63,178.94C147.30,178.99 148.96,179.04 150.63,179.09C152.30,179.14 153.97,179.19 155.63,179.24C157.30,179.29 158.97,179.34 160.64,179.39C162.30,179.44 163.97,179.49 165.64,179.54C167.31,179.59 168.98,179.63 170.64,179.68C172.31,179.73 173.98,179.78 175.65,179.82C177.31,179.87 178.98,179.92 180.65,179.96C182.32,180.01 183.98,180.05 185.65,180.10C187.32,180.14 188.99,180.18 190.66,180.23C192.32,180.27 193.99,180.31 195.66,180.36C197.33,180.40 198.99,180.44 200.66,180.48C202.33,180.52 204.00,180.56 205.67,180.61C207.33,180.65 209.00,180.69 210.67,180.73C212.34,180.76 214.01,180.80 215.67,180.84C217.34,180.88 219.01,180.92 220.68,180.96C222.35,180.99 224.01,181.03 225.68,181.07C227.35,181.10 229.02,181.14 230.69,181.17C232.35,181.21 234.02,181.24 235.69,181.28C237.36,181.31 239.02,181.35 240.69,181.38C242.36,181.41 244.03,181.44 245.70,181.48C247.37,181.51 249.03,181.54 250.70,181.57C252.37,181.60 254.04,181.63 255.71,181.66C257.37,181.69 259.04,181.72 260.71,181.75C262.38,181.78 264.05,181.80 265.71,181.83C267.38,181.86 269.05,181.89 270.72,181.91C272.39,181.94 274.05,181.96 275.72,181.99C277.39,182.01 279.06,182.04 280.73,182.06C282.39,182.09 284.06,182.11 285.73,182.13C287.40,182.15 289.07,182.18 290.74,182.20C292.40,182.22 294.07,182.24 295.74,182.26C297.41,182.28 299.08,182.30 300.74,182.32C302.41,182.34 304.08,182.36 305.75,182.37C307.42,182.39 309.09,182.41 310.75,182.43C312.42,182.44 314.09,182.46 315.76,182.47C317.43,182.49 319.10,182.50 320.76,182.52C322.43,182.53 324.10,182.54 325.77,182.56C327.44,182.57 329.11,182.58 330.77,182.59C332.44,182.60 334.11,182.61 335.78,182.62C337.45,182.63 339.11,182.64 340.78,182.65C342.45,182.66 344.12,182.67 345.79,182.68C347.46,182.68 349.12,182.69 350.79,182.69C352.46,182.70 354.13,182.71 355.80,182.71C357.47,182.71 359.13,182.72 360.80,182.72C362.47,182.73 364.14,182.73 365.81,182.73C367.48,182.73 369.14,182.73 370.81,182.73C372.48,182.73 374.15,182.73 375.82,182.73C377.49,182.73 379.16,182.73 380.82,182.73C382.49,182.72 384.16,182.72 385.83,182.72C387.50,182.71 389.17,182.71 390.83,182.70C392.50,182.70 394.17,182.69 395.84,182.69C397.51,182.68 399.18,182.67 400.84,182.67C402.51,182.67 404.18,182.67 405.85,182.67C407.52,182.67 409.19,182.67 410.85,182.67C412.52,182.68 414.19,182.69 415.86,182.70C417.52,182.72 419.19,182.74 420.86,182.76C422.53,182.79 424.20,182.81 425.86,182.85C427.53,182.89 429.20,182.93 430.86,182.98C432.53,183.03 434.20,183.09 435.87,183.15C437.53,183.22 439.20,183.29 440.87,183.38C442.53,183.46 444.20,183.55 445.86,183.66C447.53,183.76 449.20,183.87 450.86,184.00C452.53,184.12 454.19,184.26 455.86,184.41C457.52,184.56 459.19,184.72 460.85,184.90C462.51,185.08 464.17,185.27 465.83,185.48C467.49,185.69 469.15,185.92 470.80,186.17C472.45,186.42 474.10,186.69 475.74,186.99C477.38,187.28 479.01,187.60 480.64,187.94C482.27,188.29 483.90,188.66 485.51,189.05C487.13,189.45 488.73,189.88 490.33,190.34C491.93,190.80 493.52,191.28 495.10,191.80C496.68,192.32 498.25,192.87 499.81,193.44C501.37,194.02 502.92,194.62 504.46,195.25C506.00,195.89 507.52,196.55 509.04,197.24C510.56,197.92 512.06,198.64 513.55,199.38C515.05,200.12 516.53,200.89 517.99,201.69C519.46,202.48 520.91,203.30 522.35,204.15C523.80,204.99 525.22,205.86 526.64,206.76C528.05,207.65 529.45,208.57 530.83,209.52C532.21,210.46 533.58,211.43 534.94,212.42C536.29,213.40 537.63,214.41 538.96,215.43C540.30,216.45 541.62,217.49 542.94,218.53C544.25,219.57 545.56,220.62 546.87,221.68C548.18,222.73 549.49,223.78 550.80,224.83C552.10,225.88 553.41,226.92 554.73,227.95C556.04,228.98 557.36,230.01 558.69,231.01C560.02,232.02 561.36,233.00 562.71,233.97C564.06,234.93 565.42,235.87 566.80,236.79C568.17,237.70 569.57,238.58 570.98,239.43C572.39,240.28 573.83,241.09 575.28,241.86C576.74,242.63 578.22,243.36 579.72,244.04C581.23,244.72 582.76,245.36 584.32,245.94C585.88,246.52 587.47,247.06 589.08,247.55C590.69,248.04 592.32,248.49 593.97,248.90C595.62,249.32 597.28,249.69 598.96,250.04C600.64,250.38 602.33,250.69 604.02,251.00C605.70,251.31 607.39,251.62 609.04,251.97C610.70,252.31 612.34,252.69 613.92,253.14C615.51,253.59 617.06,254.12 618.54,254.74C620.02,255.35 621.45,256.06 622.79,256.89C624.13,257.71 625.39,258.65 626.56,259.70C627.73,260.75 628.82,261.91 629.83,263.15C630.85,264.40 631.79,265.73 632.66,267.13C633.53,268.53 634.34,270.00 635.08,271.52C635.83,273.04 636.51,274.60 637.14,276.19C637.78,277.78 638.36,279.40 638.90,281.02C639.44,282.65 639.93,284.28 640.39,285.91C640.85,287.55 641.27,289.18 641.66,290.82C642.05,292.46 642.41,294.10 642.75,295.75C643.09,297.39 643.41,299.04 643.71,300.69C644.01,302.33 644.30,303.98 644.58,305.63C644.85,307.28 645.12,308.93 645.39,310.58C645.66,312.22 645.92,313.87 646.19,315.52C646.45,317.16 646.71,318.81 646.97,320.45C647.22,322.10 647.48,323.75 647.73,325.39C647.98,327.04 648.23,328.68 648.47,330.33C648.71,331.97 648.95,333.62 649.19,335.27C649.42,336.91 649.65,338.56 649.87,340.21C650.10,341.85 650.32,343.50 650.53,345.15C650.74,346.80 650.95,348.45 651.16,350.10C651.36,351.75 651.55,353.41 651.74,355.06C651.93,356.71 652.12,358.37 652.29,360.03C652.47,361.68 652.64,363.34 652.80,365.00C652.96,366.66 653.12,368.32 653.26,369.99C653.41,371.65 653.55,373.32 653.68,374.99C653.81,376.66 653.93,378.33 654.04,380.00C654.15,381.68 654.26,383.35 654.35,385.03" fill="none" stroke="#E9967A" stroke-width="1.65" stroke-linejoin="round"/>
<path d="M80.57,213.07C82.24,212.96 83.91,212.86 85.58,212.77C87.25,212.67 88.92,212.58 90.59,212.49C92.26,212.40 93.93,212.31 95.60,212.23C97.28,212.15 98.95,212.07 100.62,211.99C102.29,211.91 103.96,211.84 105.63,211.77C107.30,211.69 108.97,211.62 110.64,211.56C112.31,211.49 113.98,211.43 115.65,211.37C117.32,211.31 118.99,211.25 120.66,211.20C122.33,211.14 124.00,211.09 125.67,211.04C127.34,210.99 129.02,210.94 130.69,210.89C132.36,210.85 134.03,210.81 135.70,210.77C137.37,210.73 139.04,210.69 140.71,210.65C142.38,210.61 144.05,210.58 145.72,210.55C147.39,210.52 149.07,210.49 150.74,210.46C152.41,210.43 154.08,210.41 155.75,210.38C157.42,210.36 159.09,210.34 160.76,210.32C162.43,210.30 164.11,210.28 165.78,210.26C167.45,210.24 169.12,210.23 170.79,210.22C172.46,210.20 174.13,210.19 175.80,210.18C177.48,210.17 179.15,210.16 180.82,210.15C182.49,210.15 184.16,210.14 185.83,210.14C187.50,210.13 189.18,210.13 190.85,210.13C192.52,210.13 194.19,210.13 195.86,210.13C197.53,210.13 199.21,210.13 200.88,210.13C202.55,210.13 204.22,210.14 205.89,210.14C207.56,210.15 209.24,210.15 210.91,210.16C212.58,210.16 214.25,210.17 215.92,210.18C217.59,210.19 219.27,210.19 220.94,210.20C222.61,210.21 224.28,210.22 225.95,210.23C227.63,210.24 229.30,210.26 230.97,210.27C232.64,210.28 234.31,210.29 235.99,210.30C237.66,210.31 239.33,210.33 241.00,210.34C242.67,210.35 244.35,210.37 246.02,210.38C247.69,210.39 249.36,210.41 251.03,210.42C252.71,210.43 254.38,210.45 256.05,210.46C257.72,210.47 259.39,210.49 261.07,210.50C262.74,210.51 264.41,210.53 266.08,210.54C267.76,210.55 269.43,210.57 271.10,210.58C272.77,210.59 274.45,210.60 276.12,210.62C277.79,210.63 279.46,210.64 281.14,210.65C282.81,210.66 284.48,210.67 286.15,210.68C287.83,210.69 289.50,210.70 291.17,210.71C292.84,210.72 294.52,210.72 296.19,210.73C297.86,210.74 299.53,210.74 301.21,210.75C302.88,210.75 304.55,210.76 306.22,210.76C307.90,210.77 309.57,210.77 311.24,210.77C312.91,210.77 314.59,210.77 316.26,210.77C317.93,210.77 319.61,210.77 321.28,210.76C322.95,210.76 324.62,210.75 326.30,210.75C327.97,210.74 329.64,210.73 331.32,210.72C332.99,210.71 334.66,210.70 336.33,210.69C338.01,210.68 339.68,210.67 341.35,210.65C343.03,210.63 344.70,210.62 346.37,210.60C348.04,210.58 349.72,210.56 351.39,210.54C353.06,210.52 354.74,210.49 356.41,210.47C358.08,210.45 359.76,210.42 361.43,210.40C363.10,210.37 364.77,210.35 366.45,210.32C368.12,210.30 369.79,210.28 371.47,210.25C373.14,210.23 374.81,210.21 376.48,210.18C378.16,210.16 379.83,210.14 381.50,210.12C383.17,210.10 384.85,210.09 386.52,210.07C388.19,210.06 389.86,210.04 391.53,210.03C393.21,210.02 394.88,210.02 396.55,210.01C398.22,210.01 399.89,210.00 401.56,210.01C403.23,210.01 404.91,210.01 406.58,210.02C408.25,210.03 409.92,210.04 411.59,210.06C413.26,210.08 414.93,210.10 416.60,210.13C418.27,210.16 419.94,210.19 421.61,210.22C423.28,210.26 424.95,210.30 426.62,210.35C428.29,210.40 429.96,210.45 431.63,210.51C433.29,210.58 434.96,210.64 436.63,210.72C438.30,210.79 439.97,210.87 441.64,210.96C443.30,211.04 444.97,211.14 446.64,211.24C448.30,211.34 449.97,211.45 451.64,211.57C453.30,211.69 454.97,211.82 456.64,211.95C458.30,212.09 459.97,212.23 461.63,212.38C463.30,212.53 464.96,212.70 466.63,212.87C468.29,213.04 469.96,213.22 471.62,213.41C473.28,213.60 474.95,213.80 476.61,214.01C478.27,214.22 479.93,214.44 481.60,214.67C483.26,214.89 484.92,215.12 486.58,215.35C488.25,215.59 489.91,215.82 491.57,216.05C493.23,216.28 494.89,216.50 496.56,216.72C498.22,216.94 499.88,217.15 501.55,217.36C503.21,217.56 504.88,217.75 506.54,217.92C508.21,218.10 509.87,218.26 511.54,218.41C513.21,218.55 514.87,218.67 516.54,218.77C518.21,218.87 519.88,218.95 521.55,219.01C523.22,219.06 524.90,219.08 526.57,219.08C528.24,219.07 529.92,219.04 531.60,218.97C533.27,218.89 534.95,218.79 536.61,218.63C538.28,218.47 539.94,218.27 541.58,218.00C543.22,217.73 544.84,217.41 546.44,217.01C548.03,216.61 549.61,216.14 551.15,215.58C552.69,215.03 554.19,214.39 555.66,213.66C557.12,212.92 558.54,212.09 559.93,211.17C561.31,210.26 562.64,209.26 563.94,208.20C565.24,207.14 566.49,206.01 567.70,204.84C568.91,203.67 570.08,202.45 571.21,201.20C572.33,199.95 573.42,198.66 574.47,197.34C575.52,196.02 576.53,194.67 577.50,193.30C578.48,191.92 579.42,190.52 580.33,189.10C581.24,187.69 582.12,186.25 582.96,184.79C583.81,183.34 584.63,181.87 585.43,180.40C586.22,178.92 586.99,177.44 587.73,175.94C588.48,174.44 589.19,172.94 589.89,171.42C590.58,169.90 591.26,168.38 591.91,166.85C592.56,165.31 593.18,163.77 593.79,162.22C594.40,160.67 594.99,159.12 595.55,157.55C596.12,155.99 596.67,154.41 597.20,152.84C597.73,151.26 598.25,149.67 598.75,148.08C599.24,146.49 599.72,144.89 600.19,143.29C600.66,141.69 601.11,140.08 601.55,138.47C601.98,136.86 602.41,135.24 602.82,133.62C603.24,132.00 603.64,130.38 604.03,128.75C604.42,127.12 604.80,125.49 605.17,123.86C605.54,122.23 605.90,120.59 606.25,118.95C606.61,117.31 606.95,115.67 607.29,114.03C607.63,112.39 607.97,110.75 608.30,109.10C608.62,107.46 608.95,105.82 609.27,104.17C609.59,102.53 609.91,100.89 610.22,99.24C610.53,97.60 610.84,95.95 611.15,94.31C611.45,92.66 611.75,91.02 612.05,89.37C612.35,87.73 612.65,86.08 612.94,84.44C613.23,82.79 613.52,81.14 613.80,79.50C614.08,77.85 614.36,76.20 614.64,74.56C614.92,72.91 615.19,71.26 615.46,69.61C615.73,67.96 615.99,66.32 616.26,64.67C616.52,63.02 616.78,61.37 617.03,59.72C617.29,58.07 617.54,56.42 617.79,54.76C618.03,53.11 618.28,51.46 618.52,49.81C618.76,48.15 618.99,46.50 619.23,44.85C619.46,43.19 619.69,41.54 619.92,39.88C620.14,38.22 620.37,36.57 620.58,34.91C620.80,33.25 621.02,31.59 621.23,29.93C621.44,28.27 621.65,26.61 621.85,24.95C622.06,23.29 622.26,21.63 622.46,19.97C622.65,18.30 622.85,16.64 623.04,14.97C623.23,13.31 623.42,11.64 623.60,9.98" fill="none" stroke="#000000" stroke-width="1.65" stroke-linejoin="round"/>
<path d="M80.63,184.52C82.30,184.44 83.97,184.36 85.64,184.29C87.31,184.22 88.99,184.15 90.66,184.09C92.33,184.04 94.00,183.98 95.68,183.93C97.35,183.89 99.03,183.85 100.70,183.81C102.37,183.77 104.05,183.74 105.72,183.72C107.40,183.69 109.07,183.67 110.75,183.66C112.42,183.64 114.10,183.63 115.77,183.63C117.45,183.62 119.13,183.62 120.80,183.62C122.48,183.62 124.15,183.63 125.83,183.64C127.51,183.65 129.18,183.67 130.86,183.69C132.54,183.71 134.21,183.73 135.89,183.76C137.57,183.78 139.25,183.81 140.92,183.84C142.60,183.88 144.28,183.91 145.96,183.95C147.63,183.99 149.31,184.03 150.99,184.07C152.67,184.12 154.35,184.16 156.03,184.21C157.70,184.26 159.38,184.31 161.06,184.36C162.74,184.41 164.42,184.47 166.10,184.52C167.77,184.58 169.45,184.64 171.13,184.70C172.81,184.75 174.49,184.81 176.17,184.87C177.84,184.94 179.52,185.00 181.20,185.06C182.88,185.12 184.56,185.19 186.24,185.25C187.92,185.31 189.59,185.38 191.27,185.44C192.95,185.51 194.63,185.57 196.31,185.63C197.99,185.70 199.66,185.76 201.34,185.82C203.02,185.89 204.70,185.95 206.38,186.01C208.05,186.07 209.73,186.13 211.41,186.19C213.09,186.25 214.77,186.31 216.44,186.37C218.12,186.43 219.80,186.48 221.48,186.54C223.15,186.59 224.83,186.65 226.51,186.70C228.18,186.75 229.86,186.80 231.54,186.84C233.21,186.89 234.89,186.93 236.56,186.97C238.24,187.01 239.92,187.05 241.59,187.09C243.27,187.12 244.94,187.16 246.62,187.19C248.29,187.22 249.97,187.25 251.64,187.27C253.32,187.30 254.99,187.32 256.67,187.34C258.34,187.36 260.02,187.38 261.69,187.39C263.36,187.41 265.04,187.42 266.71,187.44C268.39,187.45 270.06,187.46 271.73,187.46C273.41,187.47 275.08,187.48 276.75,187.48C278.43,187.49 280.10,187.49 281.78,187.49C283.45,187.49 285.12,187.49 286.80,187.49C288.47,187.48 290.14,187.48 291.82,187.48C293.49,187.47 295.16,187.46 296.84,187.46C298.51,187.45 300.19,187.44 301.86,187.43C303.53,187.42 305.21,187.41 306.88,187.40C308.56,187.39 310.23,187.37 311.90,187.36C313.58,187.35 315.25,187.33 316.93,187.32C318.60,187.31 320.28,187.29 321.95,187.28C323.63,187.26 325.30,187.24 326.98,187.23C328.65,187.21 330.33,187.20 332.01,187.18C333.68,187.16 335.36,187.15 337.03,187.13C338.71,187.11 340.39,187.10 342.06,187.08C343.74,187.06 345.42,187.05 347.10,187.03C348.77,187.01 350.45,187.00 352.13,186.98C353.81,186.97 355.49,186.95 357.17,186.94C358.84,186.92 360.52,186.91 362.20,186.90C363.88,186.89 365.56,186.87 367.24,186.86C368.92,186.85 370.61,186.84 372.29,186.83C373.97,186.82 375.65,186.81 377.33,186.81C379.02,186.80 380.70,186.79 382.38,186.79C384.06,186.79 385.75,186.78 387.43,186.78C389.12,186.78 390.80,186.78 392.49,186.78C394.17,186.78 395.86,186.79 397.55,186.79C399.23,186.80 400.92,186.81 402.60,186.83C404.29,186.84 405.97,186.86 407.66,186.89C409.34,186.92 411.03,186.95 412.71,186.99C414.40,187.03 416.08,187.08 417.76,187.13C419.44,187.19 421.12,187.25 422.80,187.33C424.48,187.40 426.16,187.48 427.83,187.58C429.51,187.67 431.18,187.78 432.86,187.90C434.53,188.02 436.20,188.15 437.87,188.29C439.53,188.44 441.20,188.60 442.86,188.77C444.52,188.95 446.18,189.13 447.84,189.34C449.50,189.54 451.15,189.77 452.80,190.00C454.45,190.24 456.10,190.50 457.74,190.78C459.39,191.05 461.03,191.34 462.66,191.66C464.30,191.97 465.93,192.31 467.56,192.66C469.19,193.02 470.81,193.40 472.43,193.80C474.05,194.20 475.66,194.62 477.27,195.06C478.88,195.51 480.49,195.98 482.09,196.48C483.69,196.97 485.28,197.49 486.87,198.04C488.45,198.59 490.03,199.16 491.60,199.75C493.17,200.35 494.73,200.97 496.28,201.62C497.83,202.27 499.37,202.95 500.90,203.65C502.42,204.35 503.94,205.08 505.44,205.84C506.94,206.59 508.42,207.38 509.89,208.19C511.36,209.00 512.81,209.84 514.25,210.71C515.69,211.58 517.10,212.47 518.50,213.40C519.90,214.32 521.28,215.28 522.64,216.26C524.00,217.24 525.34,218.25 526.66,219.28C527.99,220.31 529.30,221.36 530.62,222.40C531.93,223.45 533.24,224.50 534.57,225.55C535.89,226.59 537.22,227.62 538.57,228.63C539.92,229.63 541.29,230.62 542.69,231.57C544.10,232.51 545.53,233.42 547.00,234.28C548.47,235.15 549.98,235.96 551.53,236.70C553.08,237.45 554.66,238.13 556.26,238.73C557.86,239.33 559.48,239.85 561.12,240.28C562.75,240.70 564.40,241.03 566.05,241.25C567.70,241.47 569.35,241.58 570.99,241.56C572.63,241.55 574.26,241.40 575.86,241.14C577.47,240.87 579.05,240.48 580.58,239.98C582.12,239.47 583.62,238.85 585.06,238.12C586.49,237.38 587.87,236.54 589.18,235.59C590.48,234.63 591.71,233.58 592.87,232.43C594.03,231.28 595.13,230.05 596.17,228.75C597.21,227.45 598.19,226.09 599.13,224.67C600.07,223.26 600.97,221.80 601.83,220.32C602.69,218.83 603.51,217.32 604.31,215.80C605.12,214.28 605.89,212.76 606.65,211.23C607.40,209.70 608.14,208.16 608.85,206.62C609.56,205.07 610.25,203.53 610.91,201.97C611.58,200.42 612.23,198.86 612.86,197.29C613.49,195.73 614.09,194.16 614.68,192.58C615.27,191.01 615.85,189.43 616.40,187.84C616.95,186.26 617.49,184.67 618.01,183.07C618.53,181.48 619.04,179.88 619.53,178.28C620.01,176.68 620.49,175.07 620.95,173.46C621.41,171.85 621.85,170.24 622.28,168.62C622.72,167.00 623.14,165.38 623.54,163.76C623.95,162.13 624.35,160.51 624.73,158.88C625.11,157.25 625.49,155.62 625.85,153.98C626.21,152.35 626.57,150.71 626.91,149.07C627.26,147.43 627.59,145.79 627.92,144.14C628.25,142.50 628.57,140.85 628.89,139.21C629.20,137.56 629.51,135.91 629.81,134.26C630.11,132.61 630.41,130.96 630.70,129.31C631.00,127.65 631.28,126.00 631.57,124.34C631.85,122.69 632.13,121.04 632.41,119.38C632.69,117.72 632.97,116.07 633.24,114.41C633.52,112.76 633.79,111.10 634.07,109.45C634.34,107.79 634.62,106.13 634.89,104.48C635.17,102.83 635.44,101.17 635.72,99.52C636.00,97.86 636.27,96.21 636.55,94.56C636.83,92.90 637.11,91.25 637.38,89.60C637.66,87.94 637.94,86.29 638.22,84.64C638.49,82.99 638.77,81.33 639.04,79.68C639.32,78.03 639.59,76.38 639.87,74.72C640.14,73.07 640.41,71.42 640.68,69.76C640.95,68.11 641.22,66.46 641.49,64.80C641.76,63.15 642.02,61.50 642.29,59.84C642.55,58.19 642.81,56.53 643.07,54.88C643.33,53.22 643.58,51.57 643.84,49.91C644.09,48.25 644.34,46.59 644.59,44.94C644.84,43.28 645.08,41.62 645.32,39.96C645.56,38.30 645.80,36.64 646.03,34.98C646.26,33.32 646.49,31.65 646.72,29.99C646.94,28.33 647.16,26.66 647.38,25.00C647.59,23.33 647.80,21.66 648.01,20.00C648.22,18.33 648.42,16.66 648.62,14.99C648.81,13.32 649.00,11.64 649.19,9.97" fill="none" stroke="#9400D3" stroke-width="1.65" stroke-linejoin="round"/>
<path d="M80.58,153.48C82.27,153.55 83.94,153.65 85.62,153.78C87.29,153.90 88.96,154.06 90.62,154.24C92.28,154.42 93.94,154.62 95.60,154.85C97.25,155.08 98.90,155.33 100.55,155.60C102.19,155.87 103.84,156.16 105.48,156.46C107.12,156.77 108.76,157.10 110.39,157.44C112.02,157.77 113.66,158.13 115.29,158.49C116.92,158.86 118.54,159.24 120.17,159.62C121.79,160.01 123.42,160.41 125.04,160.81C126.66,161.21 128.28,161.62 129.91,162.04C131.53,162.45 133.15,162.87 134.76,163.29C136.38,163.71 138.00,164.13 139.62,164.55C141.24,164.97 142.86,165.39 144.48,165.81C146.10,166.23 147.72,166.66 149.33,167.08C150.95,167.50 152.57,167.92 154.19,168.34C155.81,168.76 157.43,169.18 159.05,169.60C160.67,170.02 162.29,170.44 163.90,170.85C165.52,171.27 167.14,171.69 168.76,172.10C170.38,172.51 172.00,172.93 173.62,173.34C175.25,173.75 176.87,174.16 178.49,174.56C180.11,174.97 181.73,175.37 183.36,175.77C184.98,176.17 186.60,176.57 188.23,176.97C189.85,177.36 191.47,177.75 193.10,178.14C194.73,178.53 196.35,178.92 197.98,179.30C199.61,179.68 201.23,180.06 202.86,180.43C204.49,180.81 206.12,181.18 207.75,181.54C209.38,181.91 211.02,182.27 212.65,182.63C214.28,182.98 215.92,183.33 217.55,183.68C219.19,184.03 220.82,184.37 222.46,184.71C224.10,185.04 225.74,185.38 227.38,185.70C229.02,186.03 230.66,186.35 232.30,186.67C233.94,186.98 235.58,187.30 237.23,187.60C238.87,187.91 240.51,188.21 242.16,188.50C243.81,188.80 245.45,189.09 247.10,189.37C248.75,189.66 250.40,189.94 252.04,190.21C253.69,190.48 255.34,190.75 257.00,191.02C258.65,191.28 260.30,191.54 261.95,191.79C263.60,192.04 265.26,192.28 266.91,192.52C268.57,192.76 270.22,193.00 271.88,193.23C273.53,193.45 275.19,193.68 276.85,193.89C278.50,194.11 280.16,194.32 281.82,194.53C283.48,194.73 285.14,194.93 286.80,195.12C288.46,195.32 290.12,195.50 291.78,195.68C293.44,195.86 295.10,196.04 296.77,196.21C298.43,196.37 300.09,196.54 301.76,196.69C303.42,196.85 305.08,197.00 306.75,197.14C308.41,197.28 310.08,197.42 311.74,197.55C313.41,197.68 315.08,197.80 316.74,197.92C318.41,198.04 320.08,198.15 321.74,198.25C323.41,198.36 325.08,198.46 326.75,198.55C328.42,198.64 330.08,198.72 331.75,198.80C333.42,198.88 335.09,198.95 336.76,199.01C338.43,199.07 340.10,199.13 341.77,199.18C343.44,199.23 345.11,199.27 346.78,199.31C348.45,199.34 350.13,199.37 351.80,199.40C353.47,199.42 355.14,199.43 356.81,199.44C358.48,199.45 360.16,199.45 361.83,199.44C363.50,199.43 365.17,199.42 366.84,199.40C368.52,199.38 370.19,199.35 371.86,199.31C373.53,199.27 375.21,199.23 376.88,199.18C378.55,199.13 380.22,199.07 381.89,199.00C383.56,198.93 385.23,198.85 386.91,198.77C388.58,198.69 390.25,198.60 391.92,198.49C393.59,198.39 395.26,198.29 396.92,198.17C398.59,198.05 400.26,197.93 401.93,197.79C403.60,197.66 405.26,197.52 406.93,197.37C408.59,197.22 410.26,197.06 411.92,196.89C413.59,196.72 415.25,196.54 416.91,196.35C418.58,196.17 420.24,195.97 421.90,195.77C423.56,195.56 425.22,195.35 426.87,195.12C428.53,194.90 430.19,194.67 431.84,194.42C433.50,194.18 435.15,193.93 436.80,193.67C438.46,193.40 440.11,193.13 441.76,192.85C443.41,192.58 445.05,192.29 446.70,192.00C448.35,191.72 450.00,191.43 451.64,191.14C453.29,190.85 454.94,190.56 456.59,190.28C458.24,190.00 459.88,189.73 461.53,189.46C463.18,189.19 464.83,188.94 466.48,188.69C468.13,188.45 469.79,188.22 471.44,188.01C473.10,187.80 474.75,187.60 476.41,187.43C478.07,187.26 479.73,187.10 481.40,186.98C483.06,186.85 484.73,186.75 486.40,186.68C488.07,186.61 489.74,186.56 491.42,186.55C493.10,186.54 494.77,186.57 496.44,186.63C498.12,186.69 499.79,186.79 501.46,186.92C503.12,187.06 504.78,187.24 506.44,187.46C508.09,187.68 509.74,187.95 511.37,188.26C513.00,188.58 514.63,188.94 516.24,189.36C517.84,189.77 519.44,190.24 521.02,190.76C522.59,191.28 524.15,191.85 525.70,192.49C527.24,193.13 528.76,193.82 530.25,194.58C531.75,195.34 533.23,196.16 534.69,197.01C536.15,197.87 537.59,198.77 539.03,199.68C540.47,200.59 541.91,201.52 543.34,202.44C544.77,203.36 546.21,204.27 547.65,205.15C549.10,206.04 550.55,206.90 552.02,207.70C553.49,208.50 554.97,209.26 556.48,209.93C557.99,210.61 559.53,211.22 561.09,211.72C562.66,212.23 564.26,212.64 565.90,212.93C567.54,213.23 569.20,213.40 570.87,213.44C572.54,213.48 574.21,213.39 575.84,213.15C577.47,212.91 579.07,212.52 580.60,211.97C582.13,211.42 583.60,210.71 584.96,209.81C586.32,208.92 587.57,207.84 588.73,206.62C589.88,205.40 590.95,204.04 591.94,202.61C592.93,201.17 593.84,199.67 594.71,198.15C595.58,196.63 596.40,195.11 597.19,193.60C597.98,192.09 598.72,190.59 599.44,189.09C600.16,187.59 600.85,186.09 601.52,184.59C602.18,183.09 602.83,181.59 603.45,180.08C604.08,178.58 604.70,177.06 605.30,175.54C605.90,174.02 606.50,172.48 607.10,170.94C607.69,169.39 608.28,167.84 608.86,166.27C609.44,164.71 610.02,163.13 610.59,161.55C611.16,159.97 611.72,158.38 612.27,156.78C612.82,155.19 613.36,153.59 613.89,151.98C614.42,150.38 614.94,148.77 615.45,147.16C615.96,145.55 616.45,143.94 616.94,142.33C617.42,140.72 617.89,139.11 618.35,137.51C618.80,135.90 619.25,134.29 619.70,132.68C620.14,131.08 620.58,129.47 621.02,127.87C621.46,126.26 621.90,124.66 622.35,123.06C622.79,121.46 623.24,119.86 623.70,118.26C624.16,116.67 624.63,115.07 625.11,113.48C625.59,111.89 626.09,110.30 626.61,108.71C627.12,107.12 627.66,105.54 628.22,103.95C628.78,102.37 629.36,100.79 629.97,99.22C630.58,97.64 631.21,96.06 631.94,94.54C632.68,93.02 633.51,91.56 634.55,90.24C635.59,88.92 636.86,87.65 638.35,86.81C639.84,85.97 641.28,86.76 642.42,88.11C643.56,89.46 644.47,90.89 645.22,92.39C645.97,93.88 646.55,95.44 647.04,97.03C647.53,98.62 647.91,100.25 648.26,101.89C648.61,103.53 648.93,105.18 649.26,106.83C649.58,108.47 649.89,110.12 650.20,111.77C650.51,113.41 650.81,115.06 651.10,116.71C651.40,118.35 651.69,120.00 651.97,121.65C652.25,123.30 652.53,124.95 652.80,126.60C653.07,128.25 653.33,129.90 653.59,131.55C653.85,133.20 654.10,134.85 654.35,136.50C654.59,138.15 654.83,139.80 655.07,141.45C655.31,143.11 655.54,144.76 655.77,146.41C655.99,148.06 656.22,149.72 656.43,151.37C656.65,153.03 656.87,154.68 657.07,156.34C657.28,157.99 657.49,159.65 657.69,161.31C657.89,162.96 658.09,164.62 658.28,166.28C658.48,167.94 658.67,169.60 658.85,171.25C659.04,172.91 659.22,174.57 659.40,176.24C659.58,177.90 659.76,179.56 659.94,181.22C660.11,182.88 660.28,184.55 660.45,186.21C660.62,187.88 660.79,189.54 660.95,191.21C661.12,192.87 661.28,194.54 661.44,196.21C661.60,197.87 661.76,199.54 661.92,201.21C662.08,202.88 662.24,204.55 662.39,206.22C662.55,207.89 662.71,209.56 662.87,211.23C663.02,212.90 663.18,214.57 663.35,216.24C663.51,217.92 663.68,219.58 663.85,221.25C664.02,222.92 664.19,224.59 664.37,226.26C664.55,227.92 664.74,229.59 664.93,231.25C665.12,232.92 665.32,234.58 665.53,236.24C665.73,237.90 665.95,239.56 666.17,241.21C666.40,242.87 666.63,244.52 666.88,246.17C667.12,247.82 667.38,249.47 667.64,251.11C667.91,252.76 668.19,254.40 668.49,256.04C668.78,257.67 669.09,259.31 669.41,260.94C669.73,262.57 670.07,264.19 670.42,265.81C670.77,267.44 671.14,269.05 671.53,270.66C671.91,272.28 672.19,274.52 672.81,275.10C673.43,275.68 674.43,273.53 674.88,271.82C675.32,270.10 675.61,268.28 675.91,266.53C676.20,264.79 676.45,263.06 676.68,261.36C676.90,259.65 677.09,257.96 677.26,256.28C677.43,254.60 677.58,252.94 677.71,251.28C677.85,249.62 677.97,247.97 678.08,246.31C678.19,244.66 678.30,243.01 678.40,241.35C678.51,239.70 678.61,238.04 678.71,236.38C678.81,234.73 678.90,233.07 679.00,231.41C679.09,229.75 679.18,228.09 679.26,226.43C679.35,224.77 679.43,223.11 679.51,221.45C679.59,219.78 679.67,218.12 679.75,216.46C679.82,214.79 679.89,213.13 679.96,211.46C680.03,209.80 680.10,208.13 680.16,206.46C680.23,204.79 680.29,203.13 680.35,201.46C680.41,199.79 680.47,198.12 680.53,196.45C680.58,194.78 680.64,193.11 680.69,191.44C680.74,189.77 680.79,188.10 680.84,186.43C680.89,184.75 680.93,183.08 680.98,181.41C681.02,179.74 681.06,178.06 681.11,176.39C681.15,174.72 681.19,173.04 681.23,171.37C681.27,169.69 681.30,168.02 681.34,166.35C681.38,164.67 681.41,163.00 681.44,161.32C681.48,159.65 681.51,157.97 681.54,156.29C681.58,154.62 681.61,152.94 681.64,151.27C681.67,149.59 681.70,147.92 681.73,146.24C681.75,144.57 681.78,142.89 681.81,141.21C681.84,139.54 681.87,137.86 681.89,136.19C681.92,134.51 681.95,132.84 681.97,131.16C682.00,129.49 682.03,127.81 682.05,126.13C682.08,124.46 682.10,122.79 682.13,121.11C682.16,119.44 682.18,117.76 682.21,116.09C682.24,114.41 682.26,112.74 682.29,111.07C682.32,109.39 682.35,107.72 682.37,106.05C682.40,104.38 682.43,102.70 682.46,101.03C682.49,99.36 682.52,97.69 682.55,96.02C682.58,94.35 682.61,92.68 682.65,91.01C682.68,89.34 682.71,87.67 682.75,86.00C682.78,84.34 682.82,82.67 682.86,81.00C682.89,79.33 682.93,77.67 682.97,76.00C683.01,74.34 683.05,72.67 683.09,71.01C683.14,69.35 683.18,67.68 683.23,66.02" fill="none" stroke="#E51E10" stroke-width="1.65" stroke-linejoin="round"/>
</g>
</g>
<g text-rendering="geometricPrecision" font-size="100">
<text transform="translate(317.50,43.60) scale(0.1441,0.1525)" text-anchor="end">MSHT20 default</text>
<line x1="326.60" y1="38.70" x2="367.90" y2="38.70" stroke="#009E73" stroke-width="1.7" stroke-opacity="0.88" stroke-linecap="round"/>
<text transform="translate(317.50,65.30) scale(0.1441,0.1525)" text-anchor="end">no Z p<tspan font-size="79" dy="25">T</tspan></text>
<line x1="326.60" y1="60.40" x2="367.90" y2="60.40" stroke="#56B4E9" stroke-width="1.7" stroke-opacity="0.88" stroke-linecap="round"/>
<text transform="translate(317.50,87.00) scale(0.1441,0.1525)" text-anchor="end">no top</text>
<line x1="326.60" y1="82.10" x2="367.90" y2="82.10" stroke="#E69F00" stroke-width="1.7" stroke-opacity="0.88" stroke-linecap="round"/>
<text transform="translate(317.50,108.40) scale(0.1441,0.1525)" text-anchor="end">no LHC jets</text>
<line x1="326.60" y1="103.50" x2="367.90" y2="103.50" stroke="#c0c0c0" stroke-width="1.7" stroke-opacity="0.88" stroke-linecap="round"/>
<text transform="translate(317.50,129.30) scale(0.1441,0.1525)" text-anchor="end">no top, Z p<tspan font-size="79" dy="25">T</tspan></text>
<line x1="326.60" y1="124.40" x2="367.90" y2="124.40" stroke="#0072B2" stroke-width="1.7" stroke-opacity="0.88" stroke-linecap="round"/>
<text transform="translate(538.30,43.60) scale(0.1441,0.1525)" text-anchor="end">no LHC jet, Z p<tspan font-size="79" dy="25">T</tspan></text>
<line x1="546.60" y1="38.70" x2="588.70" y2="38.70" stroke="#E9967A" stroke-width="1.7" stroke-opacity="0.88" stroke-linecap="round"/>
<text transform="translate(538.30,65.30) scale(0.1441,0.1525)" text-anchor="end">no LHC jet, top</text>
<line x1="546.60" y1="60.40" x2="588.70" y2="60.40" stroke="#000000" stroke-width="1.7" stroke-opacity="0.88" stroke-linecap="round"/>
<text transform="translate(538.30,87.00) scale(0.1441,0.1525)" text-anchor="end">no LHC jet, top, Z p<tspan font-size="79" dy="25">T</tspan></text>
<line x1="546.60" y1="82.10" x2="588.70" y2="82.10" stroke="#9400D3" stroke-width="1.7" stroke-opacity="0.88" stroke-linecap="round"/>
<text transform="translate(538.30,108.40) scale(0.1441,0.1525)" text-anchor="end">MMHT14 default</text>
<line x1="546.60" y1="103.50" x2="588.70" y2="103.50" stroke="#E51E10" stroke-width="1.7" stroke-opacity="0.88" stroke-linecap="round"/>
<text transform="translate(69.50,381.85) scale(0.1438,0.1530)" text-anchor="end">0.90</text>
<text transform="translate(69.50,293.15) scale(0.1438,0.1530)" text-anchor="end">0.95</text>
<text transform="translate(69.50,204.45) scale(0.1438,0.1530)" text-anchor="end">1.00</text>
<text transform="translate(69.50,115.75) scale(0.1438,0.1530)" text-anchor="end">1.05</text>
<text transform="translate(69.50,27.05) scale(0.1438,0.1530)" text-anchor="end">1.10</text>
<text transform="translate(62.61,409.60) scale(0.1950,0.2000)">10<tspan font-size="76.0" dy="-33.5" dx="2.1">-</tspan><tspan font-size="76.0" dx="-5.5">5</tspan></text>
<text transform="translate(185.54,409.60) scale(0.1950,0.2000)">10<tspan font-size="76.0" dy="-33.5" dx="2.1">-</tspan><tspan font-size="76.0" dx="-5.5">4</tspan></text>
<text transform="translate(308.47,409.60) scale(0.1950,0.2000)">10<tspan font-size="76.0" dy="-33.5" dx="2.1">-</tspan><tspan font-size="76.0" dx="-5.5">3</tspan></text>
<text transform="translate(431.40,409.60) scale(0.1950,0.2000)">10<tspan font-size="76.0" dy="-33.5" dx="2.1">-</tspan><tspan font-size="76.0" dx="-5.5">2</tspan></text>
<text transform="translate(554.33,409.60) scale(0.1950,0.2000)">10<tspan font-size="76.0" dy="-33.5" dx="2.1">-</tspan><tspan font-size="76.0" dx="-5.5">1</tspan></text>
<text transform="translate(78.30,16.60) scale(0.1613,0.1710)">g (NNLO) PDF ratios to MSHT20 at Q<tspan font-size="76" dy="-42">2</tspan><tspan dy="42" dx="6"> = 10</tspan><tspan font-size="76" dy="-42">4</tspan><tspan dy="42" dx="1"> GeV</tspan><tspan font-size="76" dy="-42">2</tspan></text>
<text transform="translate(13.30,200.00) rotate(-90) scale(0.1782,0.1890)" text-anchor="middle">ratio</text>
<text transform="translate(382.00,422.50) scale(0.1794,0.1950)" text-anchor="middle">x</text>
<text transform="translate(338.60,367.40) scale(0.1800,0.1950)">Q<tspan font-size="78" dy="-32">2</tspan><tspan dy="32"> = 10000 GeV</tspan><tspan font-size="78" dy="-32">2</tspan></text>
</g>
</svg>
</body></html>
